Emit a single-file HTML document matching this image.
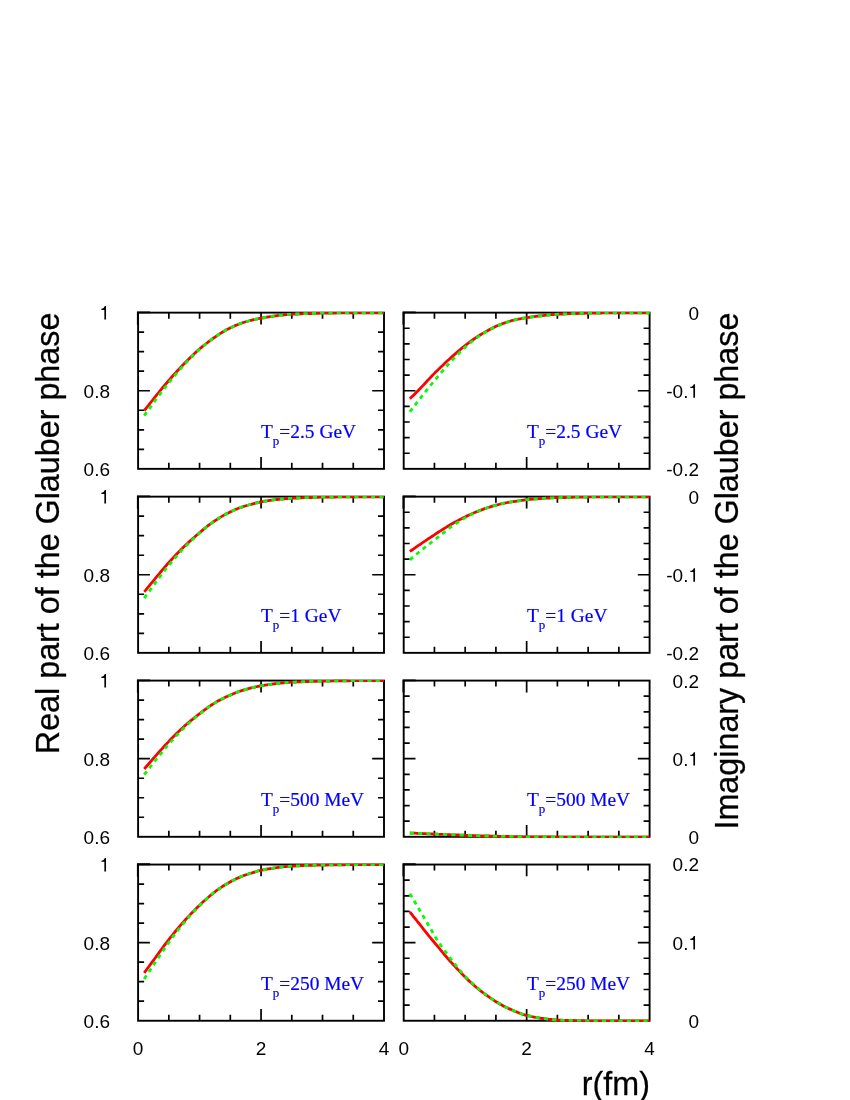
<!DOCTYPE html>
<html><head><meta charset="utf-8"><title>Glauber phase</title>
<style>
html,body{margin:0;padding:0;background:#fff;}
body{width:850px;height:1100px;overflow:hidden;}
svg{display:block;will-change:transform;}
text{font-family:"Liberation Sans",sans-serif;fill:#000;}
.tk{font-size:19px;}
.ttl{font-size:32.3px;stroke:#000;stroke-width:0.25px;}
.tp{font-family:"Liberation Serif",serif;font-size:19.4px;fill:#00f;stroke:#00f;stroke-width:0.2px;}
.sub{font-size:13px;}
</style></head><body>
<svg width="850" height="1100" viewBox="0 0 850 1100">
<rect width="850" height="1100" fill="#fff"/>
<path d="M168.84,468.85v-6.0M168.84,312.65v6.0M199.57,468.85v-6.0M199.57,312.65v6.0M230.31,468.85v-6.0M230.31,312.65v6.0M261.05,468.85v-11.8M261.05,312.65v11.8M291.79,468.85v-6.0M291.79,312.65v6.0M322.52,468.85v-6.0M322.52,312.65v6.0M353.26,468.85v-6.0M353.26,312.65v6.0M138.10,332.17h6.0M384.00,332.17h-6.0M138.10,351.70h6.0M384.00,351.70h-6.0M138.10,371.22h6.0M384.00,371.22h-6.0M138.10,390.75h11.8M384.00,390.75h-11.8M138.10,410.27h6.0M384.00,410.27h-6.0M138.10,429.80h6.0M384.00,429.80h-6.0M138.10,449.32h6.0M384.00,449.32h-6.0" stroke="#000" stroke-width="1.7" fill="none"/>
<rect x="138.10" y="312.65" width="245.90" height="156.20" fill="none" stroke="#000" stroke-width="1.9"/>
<path d="M137.85,324.65V312.40H150.10" fill="none" stroke="#000" stroke-width="1.9" stroke-linecap="butt" stroke-linejoin="miter"/>
<text class="tp" x="261" y="438.0">T<tspan class="sub" dy="6.8">p</tspan><tspan dy="-6.8">=2.5 GeV</tspan></text>
<path d="M145.4,411.6L147.1,409.3L148.8,407.1L150.5,404.9L152.2,402.8L154.0,400.6L155.7,398.5L157.4,396.3L159.1,394.2L160.9,392.1L162.6,390.0L164.3,387.9L166.0,385.9L167.7,383.9L169.5,381.9L171.2,379.9L172.9,377.9L174.6,375.9L176.3,374.0L178.0,372.2L179.8,370.3L181.5,368.5L183.2,366.7L184.9,364.9L186.6,363.2L188.4,361.5L190.1,359.7L191.8,358.0L193.5,356.4L195.2,354.7L196.9,353.2L198.6,351.6L200.4,350.1L202.1,348.7L203.8,347.3L205.5,345.9L207.2,344.6L208.9,343.2L210.6,341.9L212.4,340.6L214.1,339.4L215.8,338.2L217.5,337.0L219.2,335.8L220.9,334.8L222.6,333.7L224.3,332.7L226.0,331.7L227.7,330.8L229.4,329.9L231.1,329.0L232.8,328.2L234.5,327.4L236.2,326.7L237.9,326.0L239.6,325.3L241.3,324.7L243.0,324.1L244.7,323.6L246.4,323.1L248.1,322.6L249.8,322.1L251.5,321.7L253.2,321.2L255.0,320.8L256.7,320.5L258.4,320.1L260.1,319.8L261.8,319.5L263.5,319.2L265.2,318.9L266.9,318.6L268.7,318.3L270.4,318.1L272.1,317.8L273.8,317.5L275.5,317.3L277.2,317.1L279.0,316.8L280.7,316.6L282.4,316.4L284.1,316.3L285.8,316.1L287.5,315.9L289.2,315.8L290.9,315.7L292.7,315.6L294.4,315.5L296.1,315.4L297.8,315.4L299.5,315.3L301.3,315.2L303.0,315.1L304.7,315.1L306.4,315.0L308.2,315.0L309.9,314.9L311.6,314.9L313.3,314.8L315.0,314.8L316.8,314.7L318.5,314.7L320.2,314.6L321.9,314.5L323.6,314.5L325.4,314.5L327.1,314.5L328.8,314.4L330.5,314.4L332.3,314.4L334.0,314.4L335.7,314.4L337.4,314.3L339.2,314.3L340.9,314.3L342.6,314.3L344.3,314.3L346.1,314.2L347.8,314.2L349.5,314.2L351.2,314.2L353.0,314.2L354.7,314.2L356.4,314.2L358.1,314.2L359.9,314.2L361.6,314.2L363.3,314.2L365.0,314.2L366.8,314.2L368.5,314.2L370.2,314.2L371.9,314.2L373.7,314.2L375.4,314.2L377.1,314.2L378.8,314.2L380.6,314.2L382.3,314.2L384.0,314.2L384.0,311.9L382.3,311.9L380.6,311.9L378.8,311.9L377.1,311.9L375.4,311.9L373.7,311.9L371.9,311.9L370.2,311.9L368.5,311.9L366.8,311.9L365.0,311.9L363.3,311.9L361.6,311.9L359.9,311.9L358.1,311.9L356.4,311.9L354.7,311.9L353.0,311.9L351.2,311.9L349.5,311.9L347.8,311.9L346.0,311.9L344.3,311.9L342.6,311.9L340.9,311.9L339.1,311.9L337.4,311.9L335.7,311.9L334.0,311.9L332.2,311.9L330.5,311.9L328.8,311.9L327.1,311.9L325.3,312.0L323.6,312.0L321.9,312.0L320.2,312.0L318.4,311.9L316.7,311.9L315.0,312.0L313.2,312.0L311.5,312.1L309.8,312.1L308.1,312.2L306.3,312.2L304.6,312.3L302.9,312.3L301.2,312.4L299.4,312.5L297.7,312.6L296.0,312.6L294.2,312.7L292.5,312.8L290.8,312.9L289.0,313.0L287.3,313.1L285.6,313.3L283.8,313.5L282.1,313.7L280.3,313.9L278.6,314.1L276.9,314.3L275.1,314.5L273.4,314.8L271.7,315.0L269.9,315.3L268.2,315.6L266.5,315.8L264.8,316.1L263.0,316.4L261.3,316.7L259.6,317.0L257.8,317.4L256.1,317.7L254.3,318.1L252.6,318.5L250.8,319.0L249.1,319.4L247.4,319.9L245.6,320.4L243.9,320.9L242.1,321.5L240.4,322.1L238.6,322.7L236.9,323.4L235.1,324.1L233.4,324.9L231.6,325.7L229.9,326.5L228.1,327.4L226.4,328.3L224.6,329.3L222.9,330.3L221.1,331.3L219.4,332.4L217.7,333.5L215.9,334.7L214.2,335.9L212.4,337.1L210.7,338.4L208.9,339.7L207.2,341.0L205.5,342.4L203.7,343.7L202.0,345.1L200.3,346.5L198.5,348.0L196.8,349.5L195.0,351.1L193.3,352.7L191.6,354.4L189.8,356.0L188.1,357.8L186.4,359.5L184.6,361.2L182.9,363.0L181.2,364.8L179.5,366.6L177.7,368.4L176.0,370.3L174.3,372.2L172.5,374.1L170.8,376.0L169.1,378.0L167.3,380.0L165.6,382.1L163.9,384.1L162.1,386.1L160.4,388.2L158.7,390.3L157.0,392.4L155.2,394.6L153.5,396.7L151.8,398.9L150.1,401.0L148.3,403.2L146.6,405.4L144.9,407.6L143.1,409.8Z" fill="#f00"/>
<path d="M145.4,416.4L147.1,414.0L147.8,413.0L145.5,411.4L144.8,412.3L143.1,414.8ZM150.2,409.7L150.6,409.2L152.3,406.8L152.6,406.3L150.4,404.7L150.0,405.2L148.3,407.5L147.9,408.0ZM155.1,403.0L155.7,402.1L157.4,399.8L157.6,399.6L155.3,398.0L155.2,398.1L153.5,400.5L152.8,401.3ZM160.1,396.3L160.9,395.2L162.6,393.0L160.3,391.3L158.7,393.5L157.8,394.6ZM165.1,389.8L166.0,388.5L167.6,386.5L165.4,384.8L163.8,386.8L162.9,388.0ZM170.2,383.3L171.2,382.0L172.8,380.0L170.6,378.3L169.0,380.3L168.0,381.5ZM175.5,376.9L176.4,375.8L178.1,373.7L178.1,373.7L176.0,371.9L176.0,371.9L174.2,374.0L173.3,375.1ZM180.8,370.6L181.5,369.8L183.2,367.9L183.6,367.5L181.5,365.6L181.2,366.0L179.4,368.0L178.7,368.7ZM186.4,364.5L186.7,364.2L188.4,362.3L189.2,361.5L187.2,359.5L186.4,360.4L184.6,362.2L184.3,362.6ZM192.1,358.5L193.5,357.0L195.0,355.6L193.0,353.6L191.6,355.0L190.1,356.5ZM198.0,352.7L198.7,352.1L200.4,350.5L201.0,350.0L199.2,347.9L198.5,348.4L196.8,350.0L196.1,350.7ZM204.1,347.3L205.5,346.1L207.2,344.7L207.3,344.7L205.6,342.5L205.5,342.6L203.7,344.0L202.3,345.1ZM210.6,342.1L210.6,342.1L212.4,340.7L213.9,339.6L212.2,337.4L210.7,338.5L208.9,339.8L208.9,339.9ZM217.2,337.2L217.5,337.0L219.2,335.8L220.6,334.9L219.1,332.6L217.6,333.5L215.9,334.7L215.6,334.9ZM224.1,332.8L224.3,332.7L226.0,331.7L227.7,330.8L226.3,328.3L224.6,329.3L222.9,330.3L222.7,330.4ZM231.3,328.9L232.8,328.2L234.5,327.4L235.0,327.2L233.9,324.7L233.4,324.9L231.6,325.7L230.1,326.4ZM238.8,325.7L239.6,325.3L241.3,324.7L242.6,324.3L241.7,321.6L240.4,322.1L238.6,322.7L237.8,323.0ZM246.5,323.0L248.1,322.6L249.8,322.1L250.5,321.9L249.8,319.2L249.1,319.4L247.4,319.9L245.8,320.3ZM254.5,320.9L254.9,320.8L256.7,320.5L258.4,320.1L258.5,320.1L258.0,317.3L257.8,317.4L256.1,317.7L254.3,318.1L253.9,318.2ZM262.5,319.3L263.5,319.2L265.2,318.9L266.6,318.7L266.2,315.9L264.8,316.1L263.0,316.4L262.1,316.6ZM270.7,318.0L272.1,317.8L273.8,317.5L274.8,317.4L274.4,314.6L273.4,314.8L271.7,315.0L270.3,315.2ZM278.9,316.8L279.0,316.8L280.7,316.6L282.4,316.4L283.0,316.4L282.7,313.6L282.1,313.7L280.3,313.9L278.6,314.1L278.5,314.1ZM287.1,316.0L287.5,315.9L289.2,315.8L290.9,315.7L291.2,315.7L291.0,312.9L290.8,312.9L289.0,313.0L287.3,313.1L286.9,313.2ZM295.3,315.5L296.1,315.4L297.8,315.4L299.5,315.3L299.3,312.5L297.7,312.6L296.0,312.6L295.2,312.7ZM303.6,315.1L304.7,315.1L306.4,315.0L307.7,315.0L307.7,312.2L306.3,312.2L304.6,312.3L303.5,312.3ZM311.9,314.9L313.3,314.8L315.0,314.8L316.0,314.8L316.0,312.0L315.0,312.0L313.2,312.0L311.8,312.1ZM320.2,314.6L320.2,314.6L321.9,314.5L323.6,314.5L324.3,314.5L324.3,312.0L323.6,312.0L321.9,312.0L320.2,312.0L320.1,312.0ZM328.5,314.4L328.8,314.4L330.5,314.4L332.3,314.4L332.6,314.4L332.6,311.9L332.2,311.9L330.5,311.9L328.8,311.9L328.4,311.9ZM336.8,314.3L337.4,314.3L339.2,314.3L340.9,314.3L340.9,314.3L340.9,311.9L340.9,311.9L339.1,311.9L337.4,311.9L336.7,311.9ZM345.0,314.3L346.1,314.2L347.8,314.2L349.2,314.2L349.2,311.9L347.8,311.9L346.0,311.9L345.0,311.9ZM353.3,314.2L354.7,314.2L356.4,314.2L357.5,314.2L357.5,311.9L356.4,311.9L354.7,311.9L353.3,311.9ZM361.6,314.2L363.3,314.2L365.0,314.2L365.8,314.2L365.8,311.9L365.0,311.9L363.3,311.9L361.6,311.9ZM369.9,314.2L370.2,314.2L371.9,314.2L373.7,314.2L374.1,314.2L374.1,311.9L373.7,311.9L371.9,311.9L370.2,311.9L369.9,311.9ZM378.2,314.2L378.8,314.2L380.6,314.2L382.3,314.2L382.4,314.2L382.4,311.9L382.3,311.9L380.6,311.9L378.8,311.9L378.2,311.9Z" fill="#0f0"/>
<path d="M434.44,468.85v-6.0M434.44,312.65v6.0M465.18,468.85v-6.0M465.18,312.65v6.0M495.91,468.85v-6.0M495.91,312.65v6.0M526.65,468.85v-11.8M526.65,312.65v11.8M557.39,468.85v-6.0M557.39,312.65v6.0M588.12,468.85v-6.0M588.12,312.65v6.0M618.86,468.85v-6.0M618.86,312.65v6.0M403.70,328.27h6.0M649.60,328.27h-6.0M403.70,343.89h6.0M649.60,343.89h-6.0M403.70,359.51h6.0M649.60,359.51h-6.0M403.70,375.13h6.0M649.60,375.13h-6.0M403.70,390.75h11.8M649.60,390.75h-11.8M403.70,406.37h6.0M649.60,406.37h-6.0M403.70,421.99h6.0M649.60,421.99h-6.0M403.70,437.61h6.0M649.60,437.61h-6.0M403.70,453.23h6.0M649.60,453.23h-6.0" stroke="#000" stroke-width="1.7" fill="none"/>
<rect x="403.70" y="312.65" width="245.90" height="156.20" fill="none" stroke="#000" stroke-width="1.9"/>
<path d="M403.45,324.65V312.40H415.70" fill="none" stroke="#000" stroke-width="1.9" stroke-linecap="butt" stroke-linejoin="miter"/>
<text class="tp" x="527" y="438.0">T<tspan class="sub" dy="6.8">p</tspan><tspan dy="-6.8">=2.5 GeV</tspan></text>
<path d="M410.8,399.8L412.5,398.1L414.3,396.4L416.0,394.7L417.7,393.0L419.5,391.2L421.2,389.5L422.9,387.6L424.7,385.8L426.4,383.9L428.1,382.0L429.8,380.2L431.6,378.4L433.3,376.6L435.0,374.8L436.7,373.1L438.4,371.4L440.1,369.7L441.9,368.0L443.6,366.4L445.3,364.8L447.0,363.1L448.7,361.5L450.5,360.0L452.2,358.4L453.9,356.9L455.6,355.4L457.3,353.9L459.1,352.4L460.8,350.9L462.5,349.5L464.2,348.1L465.9,346.8L467.6,345.4L469.3,344.1L471.0,342.8L472.8,341.6L474.5,340.4L476.2,339.2L477.9,338.1L479.6,337.0L481.3,335.9L483.0,334.8L484.7,333.8L486.4,332.8L488.1,331.9L489.9,330.9L491.6,330.0L493.3,329.2L495.0,328.4L496.7,327.6L498.4,326.8L500.1,326.1L501.8,325.4L503.5,324.8L505.2,324.2L506.9,323.6L508.6,323.1L510.3,322.5L512.0,322.0L513.7,321.6L515.4,321.2L517.1,320.8L518.8,320.4L520.5,320.1L522.2,319.8L523.9,319.6L525.6,319.3L527.3,319.1L529.1,318.8L530.8,318.6L532.5,318.3L534.2,318.1L535.9,317.8L537.7,317.6L539.4,317.4L541.1,317.2L542.8,317.0L544.5,316.8L546.3,316.6L548.0,316.4L549.7,316.2L551.4,316.1L553.1,315.9L554.8,315.8L556.5,315.7L558.3,315.6L560.0,315.5L561.7,315.4L563.4,315.4L565.1,315.3L566.9,315.2L568.6,315.1L570.3,315.1L572.0,315.0L573.8,315.0L575.5,314.9L577.2,314.9L578.9,314.8L580.6,314.8L582.4,314.7L584.1,314.7L585.8,314.6L587.5,314.5L589.2,314.5L591.0,314.5L592.7,314.5L594.4,314.4L596.1,314.4L597.9,314.4L599.6,314.4L601.3,314.4L603.0,314.3L604.8,314.3L606.5,314.3L608.2,314.3L609.9,314.3L611.7,314.2L613.4,314.2L615.1,314.2L616.8,314.2L618.6,314.2L620.3,314.2L622.0,314.2L623.7,314.2L625.5,314.2L627.2,314.2L628.9,314.2L630.6,314.2L632.4,314.2L634.1,314.2L635.8,314.2L637.5,314.2L639.3,314.2L641.0,314.2L642.7,314.2L644.4,314.2L646.2,314.2L647.9,314.2L649.6,314.2L649.6,311.9L647.9,311.9L646.2,311.9L644.4,311.9L642.7,311.9L641.0,311.9L639.3,311.9L637.5,311.9L635.8,311.9L634.1,311.9L632.4,311.9L630.6,311.9L628.9,311.9L627.2,311.9L625.5,311.9L623.7,311.9L622.0,311.9L620.3,311.9L618.6,311.9L616.8,311.9L615.1,311.9L613.4,311.9L611.6,311.9L609.9,311.9L608.2,311.9L606.5,311.9L604.7,311.9L603.0,311.9L601.3,311.9L599.6,311.9L597.8,311.9L596.1,311.9L594.4,311.9L592.7,311.9L590.9,312.0L589.2,312.0L587.5,312.0L585.8,312.0L584.0,311.9L582.3,311.9L580.6,312.0L578.8,312.0L577.1,312.1L575.4,312.1L573.7,312.2L571.9,312.2L570.2,312.3L568.5,312.4L566.8,312.4L565.0,312.5L563.3,312.6L561.6,312.6L559.8,312.7L558.1,312.8L556.4,312.9L554.6,313.0L552.9,313.1L551.2,313.3L549.4,313.4L547.7,313.6L546.0,313.8L544.2,314.0L542.5,314.2L540.8,314.4L539.0,314.6L537.3,314.8L535.6,315.1L533.8,315.3L532.1,315.6L530.4,315.8L528.7,316.0L526.9,316.3L525.2,316.5L523.5,316.8L521.7,317.1L520.0,317.4L518.2,317.7L516.5,318.0L514.7,318.4L513.0,318.9L511.2,319.3L509.5,319.9L507.7,320.4L506.0,321.0L504.3,321.5L502.5,322.2L500.8,322.8L499.0,323.5L497.3,324.3L495.5,325.0L493.8,325.8L492.0,326.7L490.3,327.5L488.5,328.5L486.8,329.4L485.0,330.4L483.3,331.4L481.6,332.4L479.8,333.5L478.1,334.6L476.3,335.7L474.6,336.9L472.9,338.1L471.1,339.3L469.4,340.6L467.6,341.9L465.9,343.2L464.2,344.6L462.4,345.9L460.7,347.3L459.0,348.8L457.2,350.3L455.5,351.8L453.8,353.3L452.0,354.8L450.3,356.3L448.6,357.9L446.8,359.5L445.1,361.1L443.4,362.7L441.7,364.4L439.9,366.0L438.2,367.7L436.5,369.4L434.7,371.1L433.0,372.9L431.3,374.6L429.5,376.4L427.8,378.3L426.1,380.1L424.3,382.0L422.6,383.9L420.9,385.7L419.2,387.5L417.5,389.3L415.8,391.0L414.0,392.7L412.3,394.4L410.6,396.1L408.9,397.8Z" fill="#f00"/>
<path d="M411.0,412.6L412.7,410.4L413.5,409.3L411.3,407.6L410.5,408.7L408.7,410.9ZM416.0,406.0L416.1,405.9L417.9,403.6L418.5,402.8L416.3,401.0L415.6,401.9L413.9,404.2L413.8,404.3ZM421.1,399.5L421.3,399.2L423.0,397.0L423.7,396.2L421.5,394.5L420.8,395.3L419.1,397.5L418.9,397.8ZM426.2,393.0L426.5,392.7L428.2,390.5L428.8,389.7L426.6,388.0L426.0,388.8L424.3,390.9L424.0,391.2ZM431.4,386.5L431.6,386.2L433.4,384.1L434.0,383.3L431.9,381.5L431.2,382.4L429.5,384.5L429.2,384.7ZM436.7,380.1L436.8,380.0L438.5,377.9L439.3,376.9L437.2,375.1L436.4,376.1L434.6,378.2L434.5,378.3ZM442.0,373.8L443.7,371.8L444.7,370.6L442.6,368.8L441.6,370.0L439.9,372.0ZM447.4,367.5L448.8,365.8L450.1,364.4L448.0,362.5L446.7,364.0L445.3,365.6ZM452.9,361.3L454.0,360.2L455.7,358.4L455.7,358.3L453.7,356.4L453.7,356.4L452.0,358.2L450.8,359.4ZM458.6,355.4L459.1,354.9L460.8,353.2L461.6,352.5L459.6,350.5L458.9,351.2L457.2,352.9L456.6,353.4ZM464.6,349.7L466.0,348.4L467.6,346.9L465.8,344.8L464.1,346.3L462.7,347.6ZM470.8,344.3L471.1,344.0L472.8,342.6L474.0,341.7L472.2,339.5L471.1,340.4L469.3,341.8L469.0,342.1ZM477.2,339.2L477.9,338.8L479.6,337.6L480.6,336.9L479.0,334.6L478.0,335.3L476.3,336.5L475.6,337.0ZM484.1,334.7L484.7,334.3L486.5,333.2L487.6,332.6L486.2,330.2L485.0,330.8L483.3,331.9L482.6,332.3ZM491.2,330.6L491.6,330.4L493.3,329.5L494.8,328.7L493.6,326.2L492.0,327.0L490.3,327.9L489.8,328.1ZM498.5,327.0L500.1,326.4L501.8,325.7L502.3,325.4L501.3,322.8L500.7,323.1L499.0,323.8L497.4,324.5ZM506.2,324.0L506.9,323.8L508.6,323.2L510.1,322.7L509.2,320.0L507.7,320.5L506.0,321.1L505.2,321.4ZM514.0,321.5L515.4,321.2L517.1,320.8L517.9,320.6L517.4,317.9L516.5,318.0L514.7,318.4L513.3,318.8ZM522.0,319.9L522.2,319.8L523.9,319.6L525.6,319.3L526.0,319.2L525.6,316.5L525.2,316.5L523.5,316.8L521.7,317.1L521.5,317.1ZM530.1,318.7L530.8,318.6L532.5,318.3L534.2,318.1L534.2,318.1L533.9,315.3L533.8,315.3L532.1,315.6L530.4,315.8L529.7,315.9ZM538.3,317.5L539.4,317.4L541.1,317.2L542.5,317.0L542.1,314.2L540.8,314.4L539.0,314.6L538.0,314.8ZM546.5,316.5L548.0,316.4L549.7,316.2L550.7,316.1L550.4,313.3L549.4,313.4L547.7,313.6L546.3,313.8ZM554.8,315.8L554.8,315.8L556.5,315.7L558.3,315.6L558.9,315.6L558.7,312.8L558.1,312.8L556.4,312.9L554.6,313.0L554.6,313.0ZM563.0,315.4L563.4,315.4L565.1,315.3L566.9,315.2L567.2,315.2L567.0,312.4L566.7,312.4L565.0,312.5L563.3,312.6L562.9,312.6ZM571.3,315.0L572.0,315.0L573.8,315.0L575.4,314.9L575.4,312.1L573.7,312.2L571.9,312.2L571.2,312.3ZM579.6,314.8L580.6,314.8L582.4,314.7L583.7,314.7L583.7,311.9L582.3,311.9L580.6,312.0L579.5,312.0ZM587.9,314.5L589.2,314.5L591.0,314.5L592.0,314.5L592.0,311.9L590.9,312.0L589.2,312.0L587.8,312.0ZM596.2,314.4L597.9,314.4L599.6,314.4L600.3,314.4L600.3,311.9L599.6,311.9L597.8,311.9L596.1,311.9ZM604.5,314.3L604.8,314.3L606.5,314.3L608.2,314.3L608.6,314.3L608.6,311.9L608.2,311.9L606.5,311.9L604.7,311.9L604.4,311.9ZM612.7,314.2L613.4,314.2L615.1,314.2L616.8,314.2L616.9,314.2L616.9,311.9L616.8,311.9L615.1,311.9L613.4,311.9L612.7,311.9ZM621.0,314.2L622.0,314.2L623.7,314.2L625.2,314.2L625.2,311.9L623.7,311.9L622.0,311.9L621.0,311.9ZM629.3,314.2L630.6,314.2L632.4,314.2L633.5,314.2L633.5,311.9L632.4,311.9L630.6,311.9L629.3,311.9ZM637.6,314.2L639.3,314.2L641.0,314.2L641.8,314.2L641.8,311.9L641.0,311.9L639.3,311.9L637.6,311.9ZM645.9,314.2L646.2,314.2L647.9,314.2L649.6,314.2L649.6,311.9L647.9,311.9L646.2,311.9L645.9,311.9Z" fill="#0f0"/>
<path transform="translate(99.44,319.55) scale(0.019,-0.019)" d="M259,0L259,505L102,505L102,568C190,580 250,620 285,709L347,709L347,0Z" fill="#000"/>
<text class="tk" text-anchor="end" x="110" y="397.6">0.8</text>
<text class="tk" text-anchor="end" x="110" y="475.7">0.6</text>
<text class="tk" text-anchor="end" x="699" y="319.5">0</text>
<text class="tk" text-anchor="end" x="688.44" y="397.6">-0.</text>
<path transform="translate(688.44,397.65) scale(0.019,-0.019)" d="M259,0L259,505L102,505L102,568C190,580 250,620 285,709L347,709L347,0Z" fill="#000"/>
<text class="tk" text-anchor="end" x="699" y="475.7">-0.2</text>
<path d="M168.84,652.85v-6.0M168.84,496.65v6.0M199.57,652.85v-6.0M199.57,496.65v6.0M230.31,652.85v-6.0M230.31,496.65v6.0M261.05,652.85v-11.8M261.05,496.65v11.8M291.79,652.85v-6.0M291.79,496.65v6.0M322.52,652.85v-6.0M322.52,496.65v6.0M353.26,652.85v-6.0M353.26,496.65v6.0M138.10,516.17h6.0M384.00,516.17h-6.0M138.10,535.70h6.0M384.00,535.70h-6.0M138.10,555.23h6.0M384.00,555.23h-6.0M138.10,574.75h11.8M384.00,574.75h-11.8M138.10,594.27h6.0M384.00,594.27h-6.0M138.10,613.80h6.0M384.00,613.80h-6.0M138.10,633.32h6.0M384.00,633.32h-6.0" stroke="#000" stroke-width="1.7" fill="none"/>
<rect x="138.10" y="496.65" width="245.90" height="156.20" fill="none" stroke="#000" stroke-width="1.9"/>
<path d="M137.85,508.65V496.40H150.10" fill="none" stroke="#000" stroke-width="1.9" stroke-linecap="butt" stroke-linejoin="miter"/>
<text class="tp" x="261" y="622.0">T<tspan class="sub" dy="6.8">p</tspan><tspan dy="-6.8">=1 GeV</tspan></text>
<path d="M145.3,592.8L147.1,590.7L148.8,588.6L150.5,586.5L152.2,584.3L154.0,582.3L155.7,580.2L157.4,578.1L159.1,576.0L160.8,574.0L162.6,571.9L164.3,569.9L166.0,567.9L167.7,565.9L169.4,564.0L171.2,562.1L172.9,560.2L174.6,558.3L176.3,556.5L178.0,554.7L179.7,552.9L181.5,551.1L183.2,549.4L184.9,547.7L186.6,546.1L188.3,544.4L190.0,542.9L191.8,541.3L193.5,539.8L195.2,538.3L196.9,536.8L198.6,535.3L200.4,533.9L202.1,532.4L203.8,530.9L205.5,529.5L207.2,528.1L208.9,526.8L210.6,525.5L212.3,524.3L214.0,523.1L215.7,521.9L217.5,520.8L219.2,519.7L220.9,518.6L222.6,517.6L224.3,516.6L226.0,515.7L227.7,514.7L229.4,513.9L231.1,513.0L232.8,512.2L234.5,511.5L236.2,510.7L237.9,510.0L239.6,509.3L241.3,508.7L243.0,508.2L244.7,507.6L246.4,507.1L248.1,506.6L249.8,506.1L251.6,505.7L253.3,505.2L255.0,504.7L256.7,504.3L258.4,503.9L260.1,503.5L261.8,503.1L263.5,502.9L265.2,502.6L266.9,502.3L268.6,502.1L270.4,501.8L272.1,501.6L273.8,501.3L275.5,501.1L277.2,500.9L278.9,500.7L280.7,500.5L282.4,500.4L284.1,500.2L285.8,500.1L287.5,499.9L289.2,499.8L290.9,499.7L292.7,499.6L294.4,499.5L296.1,499.4L297.8,499.4L299.5,499.3L301.3,499.2L303.0,499.1L304.7,499.1L306.4,499.0L308.2,499.0L309.9,498.9L311.6,498.9L313.3,498.8L315.0,498.8L316.8,498.7L318.5,498.7L320.2,498.6L321.9,498.5L323.6,498.5L325.4,498.5L327.1,498.5L328.8,498.4L330.5,498.4L332.3,498.4L334.0,498.4L335.7,498.4L337.4,498.3L339.2,498.3L340.9,498.3L342.6,498.3L344.3,498.3L346.1,498.2L347.8,498.2L349.5,498.2L351.2,498.2L353.0,498.2L354.7,498.2L356.4,498.2L358.1,498.2L359.9,498.2L361.6,498.2L363.3,498.2L365.0,498.2L366.8,498.2L368.5,498.2L370.2,498.2L371.9,498.2L373.7,498.2L375.4,498.2L377.1,498.2L378.8,498.2L380.6,498.2L382.3,498.2L384.0,498.2L384.0,495.9L382.3,495.9L380.6,495.9L378.8,495.9L377.1,495.9L375.4,495.9L373.7,495.9L371.9,495.9L370.2,495.9L368.5,495.9L366.8,495.9L365.0,495.9L363.3,495.9L361.6,495.9L359.9,495.9L358.1,495.9L356.4,495.9L354.7,495.9L353.0,495.9L351.2,495.9L349.5,495.9L347.8,495.9L346.0,495.9L344.3,495.9L342.6,495.9L340.9,495.9L339.1,495.9L337.4,495.9L335.7,495.9L334.0,495.9L332.2,495.9L330.5,495.9L328.8,495.9L327.1,495.9L325.3,496.0L323.6,496.0L321.9,496.0L320.2,496.0L318.4,495.9L316.7,495.9L315.0,496.0L313.2,496.0L311.5,496.1L309.8,496.1L308.1,496.2L306.3,496.2L304.6,496.3L302.9,496.3L301.2,496.4L299.4,496.5L297.7,496.6L296.0,496.6L294.2,496.7L292.5,496.8L290.8,496.9L289.0,497.0L287.3,497.1L285.6,497.3L283.8,497.4L282.1,497.6L280.4,497.7L278.6,497.9L276.9,498.1L275.2,498.3L273.4,498.6L271.7,498.8L270.0,499.0L268.2,499.3L266.5,499.6L264.8,499.8L263.0,500.1L261.3,500.4L259.5,500.7L257.8,501.1L256.0,501.6L254.3,502.0L252.5,502.5L250.8,503.0L249.1,503.4L247.4,503.9L245.6,504.4L243.9,504.9L242.1,505.5L240.4,506.1L238.6,506.7L236.9,507.4L235.1,508.1L233.4,508.9L231.6,509.7L229.9,510.5L228.1,511.4L226.4,512.3L224.6,513.2L222.9,514.2L221.2,515.2L219.4,516.2L217.7,517.3L215.9,518.4L214.2,519.6L212.4,520.8L210.7,522.0L209.0,523.3L207.2,524.6L205.5,525.9L203.7,527.3L202.0,528.8L200.3,530.2L198.5,531.7L196.8,533.2L195.1,534.7L193.4,536.2L191.6,537.7L189.9,539.2L188.1,540.8L186.4,542.4L184.7,544.0L182.9,545.7L181.2,547.4L179.5,549.2L177.7,550.9L176.0,552.7L174.3,554.6L172.5,556.4L170.8,558.3L169.1,560.2L167.3,562.1L165.6,564.1L163.9,566.1L162.2,568.1L160.4,570.1L158.7,572.2L157.0,574.2L155.2,576.3L153.5,578.4L151.8,580.5L150.1,582.6L148.3,584.7L146.6,586.8L144.9,588.9L143.2,591.1Z" fill="#f00"/>
<path d="M145.4,598.9L147.1,596.5L147.8,595.5L145.5,593.9L144.8,594.8L143.1,597.2ZM150.2,592.2L150.6,591.7L152.3,589.4L152.7,588.8L150.4,587.2L150.0,587.7L148.3,590.1L148.0,590.5ZM155.2,585.5L155.7,584.7L157.4,582.4L157.6,582.2L155.4,580.5L155.2,580.8L153.5,583.1L152.9,583.8ZM160.1,578.9L160.9,577.8L162.6,575.6L162.6,575.6L160.4,573.8L160.4,573.9L158.7,576.2L157.9,577.2ZM165.2,572.3L166.0,571.1L167.7,569.0L165.5,567.3L163.8,569.4L163.0,570.6ZM170.3,565.8L171.2,564.7L172.9,562.6L172.9,562.6L170.8,560.8L170.8,560.8L169.0,562.9L168.1,564.0ZM175.6,559.4L176.4,558.5L178.1,556.5L178.3,556.3L176.2,554.5L176.0,554.7L174.2,556.7L173.4,557.6ZM181.0,553.2L181.5,552.7L183.2,550.8L183.8,550.2L181.8,548.3L181.2,548.9L179.4,550.8L178.9,551.4ZM186.6,547.2L188.4,545.4L189.6,544.3L187.6,542.3L186.4,543.5L184.6,545.2ZM192.5,541.4L193.5,540.5L195.2,538.9L195.5,538.6L193.7,536.5L193.3,536.8L191.6,538.4L190.6,539.4ZM198.6,535.8L198.7,535.8L200.4,534.2L201.7,533.0L199.8,531.0L198.5,532.1L196.8,533.7L196.7,533.7ZM204.8,530.3L205.5,529.7L207.2,528.3L207.9,527.7L206.2,525.5L205.5,526.1L203.7,527.6L203.0,528.2ZM211.2,525.2L212.3,524.4L214.1,523.1L214.5,522.8L212.9,520.5L212.4,520.8L210.7,522.1L209.5,523.0ZM217.9,520.5L219.2,519.7L220.9,518.6L221.4,518.3L220.0,515.9L219.4,516.2L217.7,517.3L216.4,518.1ZM224.9,516.2L226.0,515.7L227.7,514.7L228.5,514.3L227.3,511.8L226.4,512.3L224.6,513.2L223.6,513.8ZM232.2,512.5L232.8,512.2L234.5,511.5L236.0,510.8L234.9,508.2L233.4,508.9L231.6,509.7L231.0,510.0ZM239.7,509.3L241.3,508.7L243.0,508.1L243.6,508.0L242.8,505.3L242.1,505.5L240.4,506.1L238.8,506.7ZM247.5,506.8L248.1,506.6L249.8,506.1L251.5,505.7L250.8,503.0L249.1,503.4L247.4,503.9L246.8,504.1ZM255.5,504.6L256.7,504.3L258.4,503.9L259.5,503.6L258.9,500.9L257.8,501.1L256.0,501.6L254.8,501.9ZM263.5,502.9L265.2,502.6L266.9,502.3L267.6,502.2L267.2,499.5L266.5,499.6L264.8,499.8L263.1,500.1ZM271.7,501.6L272.1,501.6L273.8,501.3L275.5,501.1L275.8,501.1L275.4,498.3L275.2,498.3L273.4,498.6L271.7,498.8L271.3,498.9ZM279.9,500.6L280.7,500.5L282.4,500.4L284.0,500.2L283.7,497.4L282.1,497.6L280.4,497.7L279.6,497.8ZM288.1,499.9L289.2,499.8L290.9,499.7L292.2,499.6L292.1,496.8L290.8,496.9L289.0,497.0L287.9,497.1ZM296.3,499.4L297.8,499.4L299.5,499.3L300.5,499.2L300.4,496.5L299.4,496.5L297.7,496.6L296.2,496.6ZM304.6,499.1L304.7,499.1L306.4,499.0L308.2,499.0L308.8,498.9L308.7,496.1L308.1,496.2L306.3,496.2L304.6,496.3L304.5,496.3ZM312.9,498.8L313.3,498.8L315.0,498.8L316.8,498.7L317.0,498.7L317.0,495.9L316.7,495.9L315.0,496.0L313.2,496.0L312.8,496.0ZM321.2,498.6L321.9,498.5L323.6,498.5L325.3,498.5L325.3,496.0L323.6,496.0L321.9,496.0L321.1,496.0ZM329.5,498.4L330.5,498.4L332.3,498.4L333.6,498.4L333.6,495.9L332.2,495.9L330.5,495.9L329.4,495.9ZM337.8,498.3L339.2,498.3L340.9,498.3L341.9,498.3L341.9,495.9L340.9,495.9L339.1,495.9L337.8,495.9ZM346.1,498.2L347.8,498.2L349.5,498.2L350.2,498.2L350.2,495.9L349.5,495.9L347.8,495.9L346.1,495.9ZM354.4,498.2L354.7,498.2L356.4,498.2L358.1,498.2L358.5,498.2L358.5,495.9L358.1,495.9L356.4,495.9L354.7,495.9L354.4,495.9ZM362.7,498.2L363.3,498.2L365.0,498.2L366.8,498.2L366.8,498.2L366.8,495.9L366.8,495.9L365.0,495.9L363.3,495.9L362.7,495.9ZM371.0,498.2L371.9,498.2L373.7,498.2L375.1,498.2L375.1,495.9L373.7,495.9L371.9,495.9L371.0,495.9ZM379.3,498.2L380.6,498.2L382.3,498.2L383.4,498.2L383.4,495.9L382.3,495.9L380.6,495.9L379.3,495.9Z" fill="#0f0"/>
<path d="M434.44,652.85v-6.0M434.44,496.65v6.0M465.18,652.85v-6.0M465.18,496.65v6.0M495.91,652.85v-6.0M495.91,496.65v6.0M526.65,652.85v-11.8M526.65,496.65v11.8M557.39,652.85v-6.0M557.39,496.65v6.0M588.12,652.85v-6.0M588.12,496.65v6.0M618.86,652.85v-6.0M618.86,496.65v6.0M403.70,512.27h6.0M649.60,512.27h-6.0M403.70,527.89h6.0M649.60,527.89h-6.0M403.70,543.51h6.0M649.60,543.51h-6.0M403.70,559.13h6.0M649.60,559.13h-6.0M403.70,574.75h11.8M649.60,574.75h-11.8M403.70,590.37h6.0M649.60,590.37h-6.0M403.70,605.99h6.0M649.60,605.99h-6.0M403.70,621.61h6.0M649.60,621.61h-6.0M403.70,637.23h6.0M649.60,637.23h-6.0" stroke="#000" stroke-width="1.7" fill="none"/>
<rect x="403.70" y="496.65" width="245.90" height="156.20" fill="none" stroke="#000" stroke-width="1.9"/>
<path d="M403.45,508.65V496.40H415.70" fill="none" stroke="#000" stroke-width="1.9" stroke-linecap="butt" stroke-linejoin="miter"/>
<text class="tp" x="527" y="622.0">T<tspan class="sub" dy="6.8">p</tspan><tspan dy="-6.8">=1 GeV</tspan></text>
<path d="M410.6,552.6L412.4,551.4L414.1,550.2L415.8,549.0L417.5,547.8L419.3,546.6L421.0,545.5L422.7,544.3L424.4,543.1L426.2,542.0L427.9,540.8L429.6,539.7L431.3,538.5L433.0,537.4L434.8,536.2L436.5,535.1L438.2,533.9L439.9,532.8L441.6,531.7L443.4,530.7L445.1,529.6L446.8,528.6L448.5,527.5L450.2,526.5L451.9,525.5L453.7,524.5L455.4,523.6L457.1,522.6L458.8,521.7L460.5,520.8L462.2,519.9L463.9,519.0L465.6,518.2L467.4,517.4L469.1,516.6L470.8,515.8L472.5,515.1L474.2,514.3L475.9,513.6L477.7,512.9L479.4,512.2L481.1,511.5L482.8,510.9L484.5,510.2L486.2,509.7L487.9,509.1L489.6,508.5L491.3,508.0L493.0,507.5L494.7,507.0L496.5,506.5L498.2,506.1L499.9,505.6L501.6,505.2L503.3,504.8L505.0,504.5L506.7,504.1L508.4,503.8L510.1,503.6L511.8,503.3L513.5,503.0L515.3,502.8L517.0,502.5L518.7,502.3L520.5,502.0L522.2,501.7L523.9,501.5L525.6,501.3L527.3,501.1L529.0,500.9L530.7,500.8L532.4,500.6L534.2,500.4L535.9,500.3L537.6,500.2L539.3,500.0L541.0,499.9L542.8,499.8L544.5,499.7L546.2,499.5L547.9,499.4L549.6,499.4L551.3,499.3L553.1,499.2L554.8,499.1L556.5,499.1L558.2,499.0L559.9,499.0L561.7,498.9L563.4,498.9L565.1,498.9L566.8,498.8L568.6,498.8L570.3,498.7L572.0,498.7L573.7,498.6L575.5,498.6L577.2,498.6L578.9,498.5L580.6,498.5L582.3,498.5L584.1,498.4L585.8,498.4L587.5,498.4L589.2,498.3L591.0,498.3L592.7,498.3L594.4,498.3L596.1,498.3L597.9,498.3L599.6,498.3L601.3,498.3L603.0,498.3L604.8,498.2L606.5,498.2L608.2,498.2L609.9,498.2L611.7,498.2L613.4,498.2L615.1,498.2L616.8,498.2L618.6,498.2L620.3,498.2L622.0,498.2L623.7,498.2L625.5,498.2L627.2,498.2L628.9,498.2L630.6,498.2L632.4,498.2L634.1,498.2L635.8,498.2L637.5,498.2L639.3,498.2L641.0,498.2L642.7,498.2L644.4,498.2L646.2,498.2L647.9,498.2L649.6,498.2L649.6,495.9L647.9,495.9L646.2,495.9L644.4,495.9L642.7,495.9L641.0,495.9L639.3,495.9L637.5,495.9L635.8,495.9L634.1,495.9L632.4,495.9L630.6,495.9L628.9,495.9L627.2,495.9L625.5,495.9L623.7,495.9L622.0,495.9L620.3,495.9L618.6,495.9L616.8,495.9L615.1,495.9L613.4,495.9L611.7,495.9L609.9,495.9L608.2,495.9L606.5,495.9L604.8,495.9L603.0,495.9L601.3,495.9L599.6,495.9L597.8,495.9L596.1,495.9L594.4,495.9L592.7,495.9L590.9,495.9L589.2,495.9L587.5,495.9L585.8,495.9L584.0,495.9L582.3,495.9L580.6,495.9L578.9,495.9L577.1,495.9L575.4,496.0L573.7,496.0L572.0,496.0L570.2,496.0L568.5,496.0L566.8,496.0L565.1,496.1L563.3,496.1L561.6,496.1L559.9,496.2L558.1,496.2L556.4,496.3L554.7,496.3L553.0,496.4L551.2,496.5L549.5,496.6L547.8,496.7L546.0,496.8L544.3,496.9L542.6,497.0L540.8,497.1L539.1,497.2L537.4,497.4L535.6,497.5L533.9,497.7L532.2,497.8L530.5,498.0L528.7,498.1L527.0,498.3L525.2,498.5L523.5,498.7L521.8,499.0L520.0,499.2L518.3,499.5L516.6,499.8L514.9,500.0L513.1,500.3L511.4,500.5L509.7,500.8L507.9,501.1L506.2,501.4L504.4,501.7L502.7,502.1L500.9,502.5L499.2,502.9L497.5,503.4L495.7,503.8L494.0,504.3L492.2,504.8L490.5,505.3L488.8,505.9L487.0,506.4L485.3,507.0L483.5,507.6L481.8,508.2L480.1,508.9L478.3,509.6L476.6,510.3L474.8,511.0L473.1,511.8L471.4,512.5L469.7,513.3L467.9,514.1L466.2,514.8L464.4,515.7L462.7,516.5L461.0,517.4L459.2,518.3L457.5,519.2L455.7,520.2L454.0,521.1L452.3,522.1L450.5,523.1L448.8,524.1L447.1,525.1L445.3,526.2L443.6,527.2L441.9,528.3L440.1,529.4L438.4,530.5L436.7,531.6L434.9,532.7L433.2,533.9L431.5,535.1L429.8,536.2L428.0,537.3L426.3,538.5L424.6,539.7L422.9,540.8L421.1,542.0L419.4,543.2L417.7,544.3L416.0,545.5L414.2,546.7L412.5,547.9L410.8,549.1L409.1,550.3Z" fill="#f00"/>
<path d="M410.8,560.9L412.5,559.4L413.9,558.2L412.1,556.1L410.7,557.3L408.9,558.8ZM417.1,555.5L417.6,555.1L419.4,553.6L420.3,552.9L418.5,550.7L417.6,551.5L415.9,552.9L415.3,553.4ZM423.5,550.3L424.5,549.5L426.2,548.2L426.7,547.8L425.0,545.6L424.5,546.0L422.8,547.3L421.8,548.1ZM430.0,545.2L431.4,544.1L433.1,542.8L433.3,542.7L431.6,540.4L431.4,540.6L429.7,541.9L428.3,543.0ZM436.6,540.1L436.6,540.1L438.3,538.7L439.8,537.5L438.1,535.3L436.6,536.5L434.9,537.9L434.8,537.9ZM443.1,535.0L443.5,534.6L445.2,533.2L446.3,532.3L444.6,530.2L443.5,531.1L441.7,532.4L441.3,532.8ZM449.5,529.8L450.4,529.1L452.1,527.8L452.8,527.3L451.2,525.0L450.4,525.6L448.7,526.9L447.8,527.6ZM456.2,525.0L457.2,524.4L458.9,523.3L459.7,522.8L458.2,520.4L457.4,520.9L455.7,522.0L454.7,522.7ZM463.2,520.6L464.0,520.1L465.7,519.1L466.8,518.6L465.4,516.1L464.3,516.7L462.6,517.7L461.8,518.2ZM470.4,516.6L470.9,516.3L472.6,515.4L474.0,514.7L472.8,512.2L471.3,512.9L469.6,513.8L469.0,514.1ZM477.7,513.0L479.4,512.3L481.1,511.6L481.5,511.4L480.5,508.8L480.0,509.0L478.3,509.7L476.6,510.5ZM485.3,509.9L486.2,509.6L487.9,509.1L489.2,508.6L488.4,506.0L487.0,506.4L485.3,507.0L484.4,507.3ZM493.1,507.4L494.7,507.0L496.5,506.5L497.1,506.3L496.4,503.6L495.7,503.8L494.0,504.3L492.4,504.8ZM501.1,505.3L501.6,505.2L503.3,504.8L505.0,504.5L505.1,504.4L504.6,501.7L504.4,501.7L502.7,502.1L500.9,502.5L500.5,502.6ZM509.1,503.7L510.1,503.6L511.8,503.3L513.2,503.1L512.8,500.3L511.4,500.5L509.7,500.8L508.7,501.0ZM517.3,502.5L518.7,502.3L520.5,502.0L521.4,501.8L521.0,499.1L520.0,499.2L518.3,499.5L516.9,499.7ZM525.5,501.3L525.6,501.3L527.3,501.1L529.0,500.9L529.6,500.9L529.3,498.1L528.7,498.1L527.0,498.3L525.3,498.5L525.2,498.5ZM533.7,500.5L534.2,500.4L535.9,500.3L537.6,500.2L537.8,500.1L537.6,497.3L537.4,497.4L535.6,497.5L533.9,497.7L533.5,497.7ZM542.0,499.8L542.8,499.8L544.5,499.7L546.1,499.6L545.9,496.8L544.3,496.9L542.6,497.0L541.8,497.0ZM550.2,499.3L551.3,499.3L553.1,499.2L554.4,499.1L554.3,496.3L553.0,496.4L551.2,496.5L550.1,496.5ZM558.5,499.0L559.9,499.0L561.7,498.9L562.6,498.9L562.6,496.1L561.6,496.1L559.9,496.2L558.4,496.2ZM566.8,498.8L566.8,498.8L568.6,498.8L570.3,498.7L570.9,498.7L570.9,496.0L570.2,496.0L568.5,496.0L566.8,496.0L566.7,496.0ZM575.1,498.6L575.5,498.6L577.2,498.6L578.9,498.5L579.2,498.5L579.2,495.9L578.9,495.9L577.1,495.9L575.4,496.0L575.0,496.0ZM583.4,498.4L584.1,498.4L585.8,498.4L587.5,498.4L587.5,495.9L585.8,495.9L584.0,495.9L583.3,495.9ZM591.7,498.3L592.7,498.3L594.4,498.3L595.8,498.3L595.8,495.9L594.4,495.9L592.7,495.9L591.6,495.9ZM600.0,498.3L601.3,498.3L603.0,498.3L604.1,498.2L604.1,495.9L603.0,495.9L601.3,495.9L599.9,495.9ZM608.3,498.2L609.9,498.2L611.7,498.2L612.4,498.2L612.4,495.9L611.7,495.9L609.9,495.9L608.2,495.9ZM616.6,498.2L616.8,498.2L618.6,498.2L620.3,498.2L620.7,498.2L620.7,495.9L620.3,495.9L618.6,495.9L616.8,495.9L616.5,495.9ZM624.8,498.2L625.5,498.2L627.2,498.2L628.9,498.2L629.0,498.2L629.0,495.9L628.9,495.9L627.2,495.9L625.5,495.9L624.8,495.9ZM633.1,498.2L634.1,498.2L635.8,498.2L637.3,498.2L637.3,495.9L635.8,495.9L634.1,495.9L633.1,495.9ZM641.4,498.2L642.7,498.2L644.4,498.2L645.6,498.2L645.6,495.9L644.4,495.9L642.7,495.9L641.4,495.9Z" fill="#0f0"/>
<path transform="translate(99.44,503.55) scale(0.019,-0.019)" d="M259,0L259,505L102,505L102,568C190,580 250,620 285,709L347,709L347,0Z" fill="#000"/>
<text class="tk" text-anchor="end" x="110" y="581.6">0.8</text>
<text class="tk" text-anchor="end" x="110" y="659.7">0.6</text>
<text class="tk" text-anchor="end" x="699" y="503.5">0</text>
<text class="tk" text-anchor="end" x="688.44" y="581.6">-0.</text>
<path transform="translate(688.44,581.65) scale(0.019,-0.019)" d="M259,0L259,505L102,505L102,568C190,580 250,620 285,709L347,709L347,0Z" fill="#000"/>
<text class="tk" text-anchor="end" x="699" y="659.7">-0.2</text>
<path d="M168.84,836.80v-6.0M168.84,680.60v6.0M199.57,836.80v-6.0M199.57,680.60v6.0M230.31,836.80v-6.0M230.31,680.60v6.0M261.05,836.80v-11.8M261.05,680.60v11.8M291.79,836.80v-6.0M291.79,680.60v6.0M322.52,836.80v-6.0M322.52,680.60v6.0M353.26,836.80v-6.0M353.26,680.60v6.0M138.10,700.12h6.0M384.00,700.12h-6.0M138.10,719.65h6.0M384.00,719.65h-6.0M138.10,739.18h6.0M384.00,739.18h-6.0M138.10,758.70h11.8M384.00,758.70h-11.8M138.10,778.23h6.0M384.00,778.23h-6.0M138.10,797.75h6.0M384.00,797.75h-6.0M138.10,817.27h6.0M384.00,817.27h-6.0" stroke="#000" stroke-width="1.7" fill="none"/>
<rect x="138.10" y="680.60" width="245.90" height="156.20" fill="none" stroke="#000" stroke-width="1.9"/>
<path d="M137.85,692.60V680.35H150.10" fill="none" stroke="#000" stroke-width="1.9" stroke-linecap="butt" stroke-linejoin="miter"/>
<text class="tp" x="261" y="806.0">T<tspan class="sub" dy="6.8">p</tspan><tspan dy="-6.8">=500 MeV</tspan></text>
<path d="M145.3,769.9L147.0,767.9L148.8,765.9L150.5,763.9L152.2,761.9L153.9,760.0L155.6,758.0L157.4,756.1L159.1,754.1L160.8,752.2L162.5,750.3L164.3,748.4L166.0,746.5L167.7,744.6L169.4,742.8L171.1,741.0L172.8,739.3L174.6,737.5L176.3,735.8L178.0,734.1L179.7,732.5L181.4,730.8L183.1,729.2L184.9,727.7L186.6,726.1L188.3,724.6L190.0,723.2L191.7,721.8L193.4,720.4L195.1,719.0L196.9,717.6L198.6,716.3L200.3,714.9L202.0,713.5L203.7,712.2L205.5,710.9L207.2,709.7L208.9,708.5L210.6,707.3L212.3,706.2L214.0,705.1L215.7,704.1L217.4,703.1L219.1,702.1L220.8,701.2L222.5,700.3L224.2,699.4L225.9,698.6L227.6,697.8L229.3,697.0L231.1,696.3L232.8,695.5L234.5,694.8L236.2,694.1L237.9,693.4L239.6,692.8L241.3,692.2L243.0,691.7L244.7,691.2L246.4,690.7L248.1,690.2L249.8,689.7L251.5,689.3L253.2,688.9L255.0,688.5L256.7,688.1L258.4,687.7L260.1,687.4L261.8,687.1L263.5,686.8L265.2,686.6L266.9,686.3L268.6,686.0L270.4,685.8L272.1,685.6L273.8,685.3L275.5,685.1L277.2,684.9L278.9,684.7L280.7,684.5L282.4,684.3L284.1,684.2L285.8,684.0L287.5,683.9L289.2,683.8L290.9,683.6L292.7,683.6L294.4,683.5L296.1,683.4L297.8,683.3L299.5,683.2L301.3,683.2L303.0,683.1L304.7,683.0L306.4,683.0L308.2,682.9L309.9,682.9L311.6,682.8L313.3,682.8L315.0,682.7L316.8,682.7L318.5,682.6L320.2,682.6L321.9,682.5L323.6,682.5L325.4,682.4L327.1,682.4L328.8,682.4L330.5,682.4L332.3,682.3L334.0,682.3L335.7,682.3L337.4,682.3L339.2,682.3L340.9,682.2L342.6,682.2L344.3,682.2L346.1,682.2L347.8,682.2L349.5,682.2L351.2,682.1L353.0,682.1L354.7,682.1L356.4,682.1L358.1,682.1L359.9,682.1L361.6,682.1L363.3,682.1L365.0,682.1L366.8,682.1L368.5,682.1L370.2,682.1L371.9,682.1L373.7,682.1L375.4,682.1L377.1,682.1L378.8,682.1L380.6,682.1L382.3,682.1L384.0,682.1L384.0,679.9L382.3,679.9L380.6,679.9L378.8,679.9L377.1,679.9L375.4,679.9L373.7,679.9L371.9,679.9L370.2,679.9L368.5,679.9L366.8,679.9L365.0,679.9L363.3,679.9L361.6,679.9L359.9,679.9L358.1,679.9L356.4,679.9L354.7,679.9L353.0,679.9L351.2,679.9L349.5,679.9L347.8,679.8L346.0,679.8L344.3,679.8L342.6,679.8L340.9,679.8L339.1,679.8L337.4,679.8L335.7,679.8L334.0,679.8L332.2,679.9L330.5,679.9L328.8,679.9L327.1,679.9L325.3,679.9L323.6,679.9L321.9,679.9L320.2,679.9L318.4,679.9L316.7,679.9L315.0,679.9L313.2,680.0L311.5,680.0L309.8,680.1L308.1,680.1L306.3,680.2L304.6,680.2L302.9,680.3L301.2,680.4L299.4,680.4L297.7,680.5L296.0,680.6L294.2,680.7L292.5,680.8L290.8,680.9L289.0,681.0L287.3,681.1L285.6,681.2L283.8,681.4L282.1,681.5L280.4,681.7L278.6,681.9L276.9,682.1L275.2,682.3L273.4,682.6L271.7,682.8L270.0,683.0L268.2,683.3L266.5,683.5L264.8,683.8L263.0,684.1L261.3,684.3L259.6,684.6L257.8,685.0L256.1,685.4L254.3,685.8L252.6,686.2L250.9,686.6L249.1,687.0L247.4,687.5L245.6,688.0L243.9,688.5L242.1,689.0L240.4,689.6L238.6,690.2L236.9,690.8L235.1,691.5L233.4,692.2L231.7,693.0L229.9,693.7L228.2,694.5L226.5,695.3L224.7,696.1L223.0,696.9L221.2,697.8L219.5,698.7L217.7,699.6L216.0,700.6L214.2,701.7L212.5,702.7L210.8,703.8L209.0,705.0L207.3,706.1L205.5,707.4L203.8,708.7L202.0,710.0L200.3,711.3L198.6,712.7L196.9,714.1L195.1,715.4L193.4,716.8L191.7,718.2L189.9,719.6L188.2,721.0L186.5,722.5L184.7,724.0L183.0,725.6L181.2,727.2L179.5,728.8L177.8,730.4L176.0,732.1L174.3,733.8L172.6,735.5L170.8,737.3L169.1,739.1L167.4,740.9L165.7,742.7L163.9,744.6L162.2,746.5L160.5,748.4L158.7,750.3L157.0,752.3L155.3,754.2L153.5,756.2L151.8,758.1L150.1,760.1L148.4,762.1L146.6,764.1L144.9,766.1L143.2,768.1Z" fill="#f00"/>
<path d="M145.4,775.5L147.1,773.3L147.9,772.2L145.7,770.5L144.9,771.6L143.1,773.8ZM150.4,769.0L150.5,768.8L152.2,766.6L153.0,765.7L150.8,764.0L150.0,764.9L148.3,767.1L148.2,767.2ZM155.6,762.5L155.7,762.3L157.4,760.1L158.1,759.2L156.0,757.5L155.2,758.4L153.5,760.5L153.4,760.7ZM160.7,756.0L160.9,755.8L162.6,753.7L163.4,752.8L161.2,751.0L160.4,751.9L158.7,754.1L158.6,754.2ZM166.0,749.6L166.0,749.6L167.7,747.5L168.7,746.4L166.6,744.6L165.6,745.7L163.9,747.8L163.8,747.8ZM171.4,743.3L172.9,741.6L174.1,740.2L172.1,738.4L170.8,739.8L169.3,741.5ZM176.9,737.2L178.0,736.0L179.8,734.2L179.8,734.2L177.7,732.3L177.7,732.3L176.0,734.1L174.9,735.3ZM182.6,731.2L183.2,730.6L184.9,728.9L185.5,728.3L183.6,726.3L182.9,726.9L181.2,728.7L180.6,729.3ZM188.5,725.5L190.0,724.1L191.6,722.7L189.7,720.6L188.2,722.0L186.6,723.4ZM194.7,720.0L195.2,719.6L196.9,718.1L197.8,717.3L196.1,715.2L195.1,716.0L193.4,717.4L192.9,717.9ZM201.0,714.7L202.1,713.9L203.8,712.5L204.2,712.1L202.5,709.9L202.0,710.3L200.3,711.7L199.3,712.5ZM207.5,709.6L208.9,708.6L210.6,707.4L210.8,707.2L209.3,704.9L209.0,705.1L207.3,706.3L205.8,707.3ZM214.3,705.0L215.7,704.1L217.4,703.1L217.8,702.9L216.4,700.4L216.0,700.7L214.2,701.7L212.8,702.6ZM221.3,700.9L222.5,700.3L224.2,699.4L225.0,699.0L223.8,696.5L223.0,696.9L221.2,697.8L220.1,698.4ZM228.7,697.3L229.3,697.0L231.1,696.3L232.5,695.6L231.4,693.1L229.9,693.7L228.2,694.5L227.6,694.7ZM236.3,694.1L237.9,693.4L239.6,692.8L240.1,692.6L239.2,690.0L238.6,690.2L236.9,690.8L235.3,691.5ZM244.0,691.4L244.7,691.2L246.4,690.7L248.0,690.2L247.2,687.5L245.6,688.0L243.9,688.5L243.2,688.7ZM252.0,689.2L253.2,688.9L255.0,688.5L256.0,688.3L255.4,685.5L254.3,685.8L252.6,686.2L251.3,686.5ZM260.0,687.4L260.1,687.4L261.8,687.1L263.5,686.8L264.0,686.7L263.6,684.0L263.0,684.1L261.3,684.3L259.6,684.6L259.5,684.7ZM268.1,686.1L268.6,686.0L270.4,685.8L272.1,685.6L272.2,685.5L271.9,682.8L271.7,682.8L270.0,683.0L268.2,683.3L267.7,683.3ZM276.3,685.0L277.2,684.9L278.9,684.7L280.4,684.5L280.1,681.7L278.6,681.9L276.9,682.1L276.0,682.2ZM284.5,684.1L285.8,684.0L287.5,683.9L288.6,683.8L288.5,681.0L287.3,681.1L285.6,681.2L284.3,681.3ZM292.8,683.6L294.4,683.5L296.1,683.4L296.9,683.4L296.8,680.6L296.0,680.6L294.2,680.7L292.6,680.8ZM301.0,683.2L301.3,683.2L303.0,683.1L304.7,683.0L305.2,683.0L305.1,680.2L304.6,680.2L302.9,680.3L301.2,680.4L300.9,680.4ZM309.3,682.9L309.9,682.9L311.6,682.8L313.3,682.8L313.5,682.8L313.4,680.0L313.2,680.0L311.5,680.0L309.8,680.1L309.2,680.1ZM317.6,682.7L318.5,682.6L320.2,682.6L321.7,682.5L321.7,679.9L320.2,679.9L318.4,679.9L317.6,679.9ZM325.9,682.4L327.1,682.4L328.8,682.4L330.0,682.4L330.0,679.9L328.8,679.9L327.1,679.9L325.9,679.9ZM334.2,682.3L335.7,682.3L337.4,682.3L338.3,682.3L338.3,679.8L337.4,679.8L335.7,679.8L334.2,679.8ZM342.5,682.2L342.6,682.2L344.3,682.2L346.1,682.2L346.6,682.2L346.6,679.8L346.0,679.8L344.3,679.8L342.6,679.8L342.5,679.8ZM350.8,682.1L351.2,682.1L353.0,682.1L354.7,682.1L354.9,682.1L354.9,679.9L354.7,679.9L353.0,679.9L351.2,679.9L350.8,679.9ZM359.1,682.1L359.9,682.1L361.6,682.1L363.2,682.1L363.2,679.9L361.6,679.9L359.9,679.9L359.1,679.9ZM367.4,682.1L368.5,682.1L370.2,682.1L371.5,682.1L371.5,679.9L370.2,679.9L368.5,679.9L367.4,679.9ZM375.7,682.1L377.1,682.1L378.8,682.1L379.8,682.1L379.8,679.9L378.8,679.9L377.1,679.9L375.7,679.9ZM384.0,682.1L384.0,682.1L384.0,679.9L384.0,679.9Z" fill="#0f0"/>
<path d="M434.44,836.80v-6.0M434.44,680.60v6.0M465.18,836.80v-6.0M465.18,680.60v6.0M495.91,836.80v-6.0M495.91,680.60v6.0M526.65,836.80v-11.8M526.65,680.60v11.8M557.39,836.80v-6.0M557.39,680.60v6.0M588.12,836.80v-6.0M588.12,680.60v6.0M618.86,836.80v-6.0M618.86,680.60v6.0M403.70,696.22h6.0M649.60,696.22h-6.0M403.70,711.84h6.0M649.60,711.84h-6.0M403.70,727.46h6.0M649.60,727.46h-6.0M403.70,743.08h6.0M649.60,743.08h-6.0M403.70,758.70h11.8M649.60,758.70h-11.8M403.70,774.32h6.0M649.60,774.32h-6.0M403.70,789.94h6.0M649.60,789.94h-6.0M403.70,805.56h6.0M649.60,805.56h-6.0M403.70,821.18h6.0M649.60,821.18h-6.0" stroke="#000" stroke-width="1.7" fill="none"/>
<rect x="403.70" y="680.60" width="245.90" height="156.20" fill="none" stroke="#000" stroke-width="1.9"/>
<path d="M403.45,692.60V680.35H415.70" fill="none" stroke="#000" stroke-width="1.9" stroke-linecap="butt" stroke-linejoin="miter"/>
<text class="tp" x="527" y="806.0">T<tspan class="sub" dy="6.8">p</tspan><tspan dy="-6.8">=500 MeV</tspan></text>
<path d="M409.8,834.4L411.5,834.5L413.2,834.6L415.0,834.6L416.7,834.7L418.4,834.8L420.1,834.9L421.9,834.9L423.6,835.0L425.3,835.1L427.0,835.2L428.8,835.2L430.5,835.3L432.2,835.4L433.9,835.5L435.7,835.5L437.4,835.6L439.1,835.7L440.8,835.7L442.6,835.8L444.3,835.9L446.0,836.0L447.7,836.0L449.5,836.1L451.2,836.2L452.9,836.2L454.6,836.3L456.4,836.4L458.1,836.4L459.8,836.5L461.5,836.6L463.3,836.6L465.0,836.7L466.7,836.8L468.4,836.8L470.2,836.9L471.9,836.9L473.6,837.0L475.3,837.0L477.1,837.1L478.8,837.2L480.5,837.2L482.2,837.3L484.0,837.3L485.7,837.4L487.4,837.4L489.2,837.4L490.9,837.5L492.6,837.5L494.3,837.6L496.1,837.6L497.8,837.6L499.5,837.7L501.2,837.7L503.0,837.7L504.7,837.7L506.4,837.8L508.1,837.8L509.9,837.8L511.6,837.8L513.3,837.8L515.0,837.8L516.8,837.9L518.5,837.9L520.2,837.9L521.9,837.9L523.7,837.9L525.4,837.9L527.1,837.9L528.9,837.9L530.6,837.9L532.3,837.9L534.0,837.9L535.8,837.9L537.5,837.9L539.2,837.9L540.9,838.0L542.7,838.0L544.4,838.0L546.1,838.0L547.8,838.0L549.6,838.0L551.3,838.0L553.0,837.9L554.7,837.9L556.5,837.9L558.2,837.9L559.9,837.9L561.6,837.9L563.4,837.9L565.1,837.9L566.8,837.9L568.5,837.9L570.3,837.9L572.0,837.9L573.7,837.9L575.4,837.9L577.2,837.9L578.9,837.9L580.6,837.9L582.3,837.9L584.1,837.9L585.8,837.9L587.5,837.9L589.2,837.9L591.0,837.9L592.7,837.9L594.4,837.9L596.1,837.9L597.9,837.9L599.6,837.9L601.3,837.9L603.0,837.9L604.8,837.9L606.5,837.9L608.2,837.9L609.9,837.9L611.7,837.9L613.4,837.9L615.1,837.9L616.8,837.9L618.6,837.9L620.3,837.9L622.0,837.9L623.7,837.9L625.5,837.9L627.2,837.9L628.9,837.9L630.6,837.9L632.4,837.9L634.1,837.9L635.8,837.9L637.5,837.9L639.3,837.9L641.0,837.9L642.7,837.9L644.4,837.9L646.2,837.9L647.9,837.9L649.6,837.9L649.6,835.7L647.9,835.7L646.2,835.7L644.4,835.7L642.7,835.7L641.0,835.7L639.3,835.7L637.5,835.7L635.8,835.7L634.1,835.7L632.4,835.7L630.6,835.7L628.9,835.7L627.2,835.7L625.5,835.7L623.7,835.7L622.0,835.7L620.3,835.7L618.6,835.7L616.8,835.7L615.1,835.7L613.4,835.7L611.7,835.7L609.9,835.7L608.2,835.7L606.5,835.7L604.8,835.7L603.0,835.7L601.3,835.7L599.6,835.7L597.9,835.7L596.1,835.7L594.4,835.7L592.7,835.7L591.0,835.7L589.2,835.7L587.5,835.7L585.8,835.7L584.1,835.7L582.3,835.7L580.6,835.7L578.9,835.7L577.2,835.7L575.4,835.7L573.7,835.7L572.0,835.7L570.3,835.7L568.5,835.7L566.8,835.7L565.1,835.7L563.4,835.7L561.6,835.7L559.9,835.7L558.2,835.7L556.5,835.7L554.7,835.7L553.0,835.6L551.3,835.6L549.6,835.6L547.8,835.6L546.1,835.6L544.4,835.6L542.7,835.6L540.9,835.5L539.2,835.5L537.5,835.5L535.8,835.5L534.0,835.5L532.3,835.5L530.6,835.5L528.9,835.4L527.1,835.4L525.4,835.4L523.7,835.4L522.0,835.3L520.3,835.3L518.5,835.3L516.8,835.2L515.1,835.2L513.4,835.2L511.6,835.1L509.9,835.1L508.2,835.1L506.5,835.0L504.7,835.0L503.0,835.0L501.3,834.9L499.6,834.9L497.8,834.8L496.1,834.8L494.4,834.8L492.7,834.7L490.9,834.7L489.2,834.6L487.5,834.6L485.8,834.6L484.1,834.5L482.3,834.5L480.6,834.4L478.9,834.4L477.2,834.3L475.4,834.2L473.7,834.2L472.0,834.1L470.3,834.1L468.5,834.0L466.8,834.0L465.1,833.9L463.4,833.8L461.6,833.8L459.9,833.7L458.2,833.6L456.5,833.6L454.7,833.5L453.0,833.4L451.3,833.4L449.6,833.3L447.9,833.2L446.1,833.2L444.4,833.1L442.7,833.0L441.0,832.9L439.2,832.9L437.5,832.8L435.8,832.7L434.1,832.7L432.3,832.6L430.6,832.5L428.9,832.4L427.2,832.4L425.4,832.3L423.7,832.2L422.0,832.1L420.3,832.1L418.5,832.0L416.8,831.9L415.1,831.8L413.4,831.8L411.6,831.7L409.9,831.6Z" fill="#f00"/>
<path d="M409.8,834.4L411.5,834.5L413.2,834.6L413.9,834.6L414.1,831.8L413.4,831.8L411.6,831.7L409.9,831.6ZM418.1,834.8L418.4,834.8L420.1,834.9L421.9,834.9L422.2,835.0L422.3,832.2L422.0,832.1L420.3,832.1L418.5,832.0L418.2,832.0ZM426.4,835.1L427.0,835.2L428.8,835.2L430.5,835.3L430.5,835.3L430.6,832.5L430.6,832.5L428.9,832.4L427.2,832.4L426.5,832.3ZM434.7,835.5L435.7,835.5L437.4,835.6L438.8,835.7L438.9,832.9L437.5,832.8L435.8,832.7L434.8,832.7ZM443.0,835.8L444.3,835.9L446.0,836.0L447.1,836.0L447.2,833.2L446.1,833.2L444.4,833.1L443.1,833.0ZM451.3,836.2L452.9,836.2L454.6,836.3L455.4,836.3L455.5,833.5L454.7,833.5L453.0,833.4L451.4,833.4ZM459.6,836.5L459.8,836.5L461.5,836.6L463.3,836.6L463.7,836.7L463.8,833.9L463.4,833.8L461.6,833.8L459.9,833.7L459.7,833.7ZM467.9,836.8L468.4,836.8L470.2,836.9L471.9,836.9L472.0,836.9L472.1,834.1L472.0,834.1L470.3,834.1L468.5,834.0L467.9,834.0ZM476.1,837.1L477.1,837.1L478.8,837.2L480.3,837.2L480.4,834.4L478.9,834.4L477.2,834.3L476.2,834.3ZM484.4,837.3L485.7,837.4L487.4,837.4L488.6,837.4L488.7,834.6L487.5,834.6L485.8,834.6L484.5,834.5ZM492.8,837.5L494.3,837.6L496.1,837.6L496.9,837.6L497.0,834.8L496.1,834.8L494.4,834.8L492.8,834.7ZM501.1,837.7L501.2,837.7L503.0,837.7L504.7,837.7L505.2,837.7L505.3,835.0L504.7,835.0L503.0,835.0L501.3,834.9L501.1,834.9ZM509.4,837.8L509.9,837.8L511.6,837.8L513.3,837.8L513.5,837.8L513.6,835.2L513.4,835.2L511.6,835.1L509.9,835.1L509.4,835.1ZM517.7,837.9L518.5,837.9L520.2,837.9L521.8,837.9L521.8,835.3L520.3,835.3L518.5,835.3L517.7,835.3ZM526.0,837.9L527.1,837.9L528.9,837.9L530.1,837.9L530.1,835.5L528.9,835.4L527.1,835.4L526.0,835.4ZM534.3,837.9L535.8,837.9L537.5,837.9L538.4,837.9L538.4,835.5L537.5,835.5L535.8,835.5L534.3,835.5ZM542.6,838.0L542.7,838.0L544.4,838.0L546.1,838.0L546.7,838.0L546.7,835.6L546.1,835.6L544.4,835.6L542.7,835.6L542.6,835.6ZM550.9,838.0L551.3,838.0L553.0,837.9L554.7,837.9L555.0,837.9L555.0,835.7L554.7,835.7L553.0,835.6L551.3,835.6L550.9,835.6ZM559.2,837.9L559.9,837.9L561.6,837.9L563.3,837.9L563.3,835.7L561.6,835.7L559.9,835.7L559.2,835.7ZM567.5,837.9L568.5,837.9L570.3,837.9L571.6,837.9L571.6,835.7L570.3,835.7L568.5,835.7L567.5,835.7ZM575.8,837.9L577.2,837.9L578.9,837.9L579.9,837.9L579.9,835.7L578.9,835.7L577.2,835.7L575.8,835.7ZM584.1,837.9L585.8,837.9L587.5,837.9L588.2,837.9L588.2,835.7L587.5,835.7L585.8,835.7L584.1,835.7ZM592.4,837.9L592.7,837.9L594.4,837.9L596.1,837.9L596.5,837.9L596.5,835.7L596.1,835.7L594.4,835.7L592.7,835.7L592.4,835.7ZM600.7,837.9L601.3,837.9L603.0,837.9L604.8,837.9L604.8,837.9L604.8,835.7L604.8,835.7L603.0,835.7L601.3,835.7L600.7,835.7ZM609.0,837.9L609.9,837.9L611.7,837.9L613.1,837.9L613.1,835.7L611.7,835.7L609.9,835.7L609.0,835.7ZM617.3,837.9L618.6,837.9L620.3,837.9L621.4,837.9L621.4,835.7L620.3,835.7L618.6,835.7L617.3,835.7ZM625.6,837.9L627.2,837.9L628.9,837.9L629.7,837.9L629.7,835.7L628.9,835.7L627.2,835.7L625.6,835.7ZM633.9,837.9L634.1,837.9L635.8,837.9L637.5,837.9L638.0,837.9L638.0,835.7L637.5,835.7L635.8,835.7L634.1,835.7L633.9,835.7ZM642.2,837.9L642.7,837.9L644.4,837.9L646.2,837.9L646.3,837.9L646.3,835.7L646.2,835.7L644.4,835.7L642.7,835.7L642.2,835.7Z" fill="#0f0"/>
<path transform="translate(99.44,687.50) scale(0.019,-0.019)" d="M259,0L259,505L102,505L102,568C190,580 250,620 285,709L347,709L347,0Z" fill="#000"/>
<text class="tk" text-anchor="end" x="110" y="765.6">0.8</text>
<text class="tk" text-anchor="end" x="110" y="843.7">0.6</text>
<text class="tk" text-anchor="end" x="699" y="687.5">0.2</text>
<text class="tk" text-anchor="end" x="688.44" y="765.6">0.</text>
<path transform="translate(688.44,765.60) scale(0.019,-0.019)" d="M259,0L259,505L102,505L102,568C190,580 250,620 285,709L347,709L347,0Z" fill="#000"/>
<text class="tk" text-anchor="end" x="699" y="843.7">0</text>
<path d="M168.84,1020.75v-6.0M168.84,864.55v6.0M199.57,1020.75v-6.0M199.57,864.55v6.0M230.31,1020.75v-6.0M230.31,864.55v6.0M261.05,1020.75v-11.8M261.05,864.55v11.8M291.79,1020.75v-6.0M291.79,864.55v6.0M322.52,1020.75v-6.0M322.52,864.55v6.0M353.26,1020.75v-6.0M353.26,864.55v6.0M138.10,884.07h6.0M384.00,884.07h-6.0M138.10,903.60h6.0M384.00,903.60h-6.0M138.10,923.12h6.0M384.00,923.12h-6.0M138.10,942.65h11.8M384.00,942.65h-11.8M138.10,962.17h6.0M384.00,962.17h-6.0M138.10,981.70h6.0M384.00,981.70h-6.0M138.10,1001.22h6.0M384.00,1001.22h-6.0" stroke="#000" stroke-width="1.7" fill="none"/>
<rect x="138.10" y="864.55" width="245.90" height="156.20" fill="none" stroke="#000" stroke-width="1.9"/>
<path d="M137.85,876.55V864.30H150.10" fill="none" stroke="#000" stroke-width="1.9" stroke-linecap="butt" stroke-linejoin="miter"/>
<text class="tp" x="261" y="989.9">T<tspan class="sub" dy="6.8">p</tspan><tspan dy="-6.8">=250 MeV</tspan></text>
<path d="M145.4,973.7L147.1,971.3L148.8,968.9L150.6,966.6L152.3,964.2L154.0,961.9L155.7,959.5L157.5,957.2L159.2,954.8L160.9,952.4L162.6,950.1L164.3,947.8L166.1,945.5L167.8,943.2L169.5,941.0L171.2,938.8L172.9,936.6L174.7,934.5L176.4,932.4L178.1,930.4L179.8,928.3L181.5,926.3L183.2,924.4L185.0,922.4L186.7,920.5L188.4,918.6L190.1,916.8L191.8,915.0L193.5,913.2L195.3,911.5L197.0,909.8L198.7,908.1L200.4,906.4L202.1,904.7L203.8,903.1L205.6,901.5L207.3,900.0L209.0,898.5L210.7,897.0L212.4,895.6L214.1,894.2L215.8,892.9L217.5,891.6L219.2,890.4L220.9,889.2L222.6,888.1L224.3,887.0L226.0,885.9L227.7,884.9L229.5,884.0L231.2,883.0L232.9,882.1L234.6,881.2L236.3,880.3L238.0,879.4L239.7,878.7L241.4,878.0L243.1,877.3L244.8,876.7L246.5,876.1L248.2,875.6L249.9,875.0L251.6,874.5L253.3,873.9L255.1,873.4L256.8,872.8L258.5,872.3L260.1,871.9L261.8,871.5L263.5,871.2L265.2,870.9L267.0,870.6L268.7,870.3L270.4,870.0L272.1,869.7L273.8,869.4L275.5,869.2L277.2,868.9L279.0,868.7L280.7,868.5L282.4,868.3L284.1,868.1L285.8,868.0L287.5,867.8L289.2,867.7L290.9,867.6L292.7,867.5L294.4,867.4L296.1,867.3L297.8,867.3L299.5,867.2L301.3,867.1L303.0,867.0L304.7,867.0L306.4,866.9L308.2,866.9L309.9,866.8L311.6,866.8L313.3,866.7L315.0,866.7L316.8,866.6L318.5,866.6L320.2,866.5L321.9,866.4L323.6,866.4L325.4,866.4L327.1,866.4L328.8,866.3L330.5,866.3L332.3,866.3L334.0,866.3L335.7,866.3L337.4,866.2L339.2,866.2L340.9,866.2L342.6,866.2L344.3,866.2L346.1,866.1L347.8,866.1L349.5,866.1L351.2,866.1L353.0,866.1L354.7,866.1L356.4,866.1L358.1,866.1L359.9,866.1L361.6,866.1L363.3,866.1L365.0,866.1L366.8,866.1L368.5,866.1L370.2,866.1L371.9,866.1L373.7,866.1L375.4,866.1L377.1,866.1L378.8,866.1L380.6,866.1L382.3,866.1L384.0,866.1L384.0,863.8L382.3,863.8L380.6,863.8L378.8,863.8L377.1,863.8L375.4,863.8L373.7,863.8L371.9,863.8L370.2,863.8L368.5,863.8L366.8,863.8L365.0,863.8L363.3,863.8L361.6,863.8L359.9,863.8L358.1,863.8L356.4,863.8L354.7,863.8L353.0,863.8L351.2,863.8L349.5,863.8L347.8,863.8L346.0,863.8L344.3,863.8L342.6,863.8L340.9,863.8L339.1,863.8L337.4,863.8L335.7,863.8L334.0,863.8L332.2,863.8L330.5,863.8L328.8,863.8L327.1,863.8L325.3,863.9L323.6,863.9L321.9,863.9L320.2,863.9L318.4,863.8L316.7,863.8L315.0,863.9L313.2,863.9L311.5,864.0L309.8,864.0L308.1,864.1L306.3,864.1L304.6,864.2L302.9,864.2L301.2,864.3L299.4,864.4L297.7,864.5L296.0,864.5L294.2,864.6L292.5,864.7L290.8,864.8L289.0,864.9L287.3,865.0L285.6,865.2L283.8,865.4L282.1,865.5L280.3,865.7L278.6,865.9L276.9,866.2L275.1,866.4L273.4,866.7L271.7,866.9L269.9,867.2L268.2,867.5L266.5,867.8L264.7,868.1L263.0,868.4L261.3,868.8L259.5,869.2L257.7,869.6L256.0,870.2L254.2,870.7L252.5,871.3L250.8,871.8L249.0,872.3L247.3,872.9L245.6,873.5L243.8,874.1L242.1,874.7L240.3,875.4L238.6,876.1L236.8,876.9L235.0,877.8L233.3,878.7L231.5,879.6L229.8,880.5L228.1,881.5L226.3,882.5L224.6,883.5L222.8,884.6L221.1,885.7L219.4,886.9L217.6,888.1L215.9,889.3L214.1,890.7L212.4,892.0L210.6,893.4L208.9,894.9L207.2,896.4L205.4,897.9L203.7,899.5L201.9,901.1L200.2,902.7L198.5,904.4L196.7,906.1L195.0,907.8L193.3,909.5L191.5,911.3L189.8,913.1L188.1,914.9L186.3,916.7L184.6,918.6L182.9,920.5L181.1,922.5L179.4,924.5L177.7,926.5L175.9,928.6L174.2,930.6L172.5,932.7L170.8,934.9L169.0,937.1L167.3,939.3L165.6,941.5L163.8,943.8L162.1,946.1L160.4,948.4L158.6,950.8L156.9,953.2L155.2,955.5L153.5,957.9L151.7,960.2L150.0,962.6L148.3,964.9L146.6,967.3L144.8,969.7L143.1,972.0Z" fill="#f00"/>
<path d="M145.4,979.7L147.1,977.1L147.7,976.3L145.4,974.7L144.8,975.6L143.1,978.2ZM150.0,972.8L150.6,971.9L152.3,969.3L149.9,967.8L148.3,970.3L147.6,971.3ZM154.6,965.9L155.8,964.1L156.9,962.4L154.5,960.9L153.4,962.6L152.2,964.3ZM159.2,959.0L159.2,958.9L160.9,956.3L161.5,955.5L159.1,954.0L158.6,954.8L156.9,957.4L156.8,957.4ZM163.8,952.1L164.4,951.2L166.1,948.7L166.1,948.7L163.8,947.1L163.8,947.1L162.1,949.6L161.5,950.5ZM168.5,945.3L169.5,943.8L170.9,941.9L168.6,940.3L167.3,942.2L166.2,943.7ZM173.3,938.6L174.7,936.7L175.8,935.3L173.6,933.6L172.4,935.1L171.1,936.9ZM178.3,932.0L179.8,930.0L180.9,928.7L178.7,927.0L177.6,928.3L176.1,930.3ZM183.5,925.5L185.0,923.7L186.1,922.4L184.0,920.6L182.8,921.9L181.3,923.8ZM188.8,919.2L190.1,917.7L191.5,916.1L189.5,914.3L188.0,915.8L186.7,917.4ZM194.3,913.1L195.3,912.1L197.0,910.3L197.2,910.1L195.2,908.2L195.0,908.3L193.3,910.1L192.3,911.2ZM200.1,907.1L200.4,906.8L202.2,905.1L203.0,904.2L201.0,902.2L200.2,903.1L198.5,904.8L198.1,905.2ZM206.0,901.4L207.3,900.2L209.0,898.6L209.0,898.6L207.2,896.5L207.1,896.5L205.4,898.1L204.1,899.3ZM212.1,895.9L212.4,895.7L214.1,894.3L215.3,893.3L213.6,891.1L212.4,892.1L210.6,893.5L210.3,893.8ZM218.6,890.9L219.2,890.4L220.9,889.2L221.9,888.5L220.4,886.2L219.4,886.9L217.6,888.1L216.9,888.6ZM225.4,886.3L226.0,885.9L227.7,884.9L228.9,884.3L227.5,881.8L226.3,882.5L224.6,883.5L223.9,883.9ZM232.5,882.3L232.9,882.1L234.6,881.2L236.2,880.3L234.9,877.9L233.3,878.7L231.6,879.6L231.2,879.8ZM239.8,878.6L241.4,878.0L243.1,877.3L243.6,877.1L242.7,874.5L242.1,874.7L240.3,875.4L238.7,876.0ZM247.5,875.8L248.2,875.6L249.9,875.0L251.4,874.5L250.6,871.9L249.0,872.3L247.3,872.9L246.6,873.1ZM255.4,873.3L256.8,872.8L258.5,872.3L259.3,872.1L258.6,869.4L257.7,869.6L256.0,870.2L254.5,870.6ZM263.3,871.2L263.5,871.2L265.2,870.9L267.0,870.6L267.3,870.5L266.8,867.7L266.5,867.8L264.7,868.1L263.0,868.4L262.7,868.5ZM271.4,869.8L272.1,869.7L273.8,869.4L275.5,869.2L275.1,866.4L273.4,866.7L271.7,866.9L271.0,867.0ZM279.6,868.7L280.7,868.5L282.4,868.3L283.7,868.2L283.4,865.4L282.1,865.5L280.3,865.7L279.2,865.9ZM287.8,867.8L289.2,867.7L290.9,867.6L291.9,867.5L291.7,864.8L290.8,864.8L289.0,864.9L287.5,865.0ZM296.0,867.3L296.1,867.3L297.8,867.3L299.5,867.2L300.1,867.2L300.0,864.4L299.4,864.4L297.7,864.5L296.0,864.5L295.9,864.5ZM304.3,867.0L304.7,867.0L306.4,866.9L308.2,866.9L308.4,866.9L308.3,864.1L308.1,864.1L306.3,864.1L304.6,864.2L304.2,864.2ZM312.6,866.7L313.3,866.7L315.0,866.7L316.7,866.6L316.6,863.8L315.0,863.9L313.2,863.9L312.5,863.9ZM320.8,866.5L321.9,866.4L323.6,866.4L325.0,866.4L325.0,863.9L323.6,863.9L321.9,863.9L320.8,863.9ZM329.1,866.3L330.5,866.3L332.3,866.3L333.3,866.3L333.3,863.8L332.2,863.8L330.5,863.8L329.1,863.8ZM337.4,866.2L337.4,866.2L339.2,866.2L340.9,866.2L341.6,866.2L341.6,863.8L340.9,863.8L339.1,863.8L337.4,863.8L337.4,863.8ZM345.7,866.1L346.1,866.1L347.8,866.1L349.5,866.1L349.9,866.1L349.9,863.8L349.5,863.8L347.8,863.8L346.0,863.8L345.7,863.8ZM354.0,866.1L354.7,866.1L356.4,866.1L358.1,866.1L358.2,866.1L358.2,863.8L358.1,863.8L356.4,863.8L354.7,863.8L354.0,863.8ZM362.3,866.1L363.3,866.1L365.0,866.1L366.5,866.1L366.5,863.8L365.0,863.8L363.3,863.8L362.3,863.8ZM370.6,866.1L371.9,866.1L373.7,866.1L374.8,866.1L374.8,863.8L373.7,863.8L371.9,863.8L370.6,863.8ZM378.9,866.1L380.6,866.1L382.3,866.1L383.1,866.1L383.1,863.8L382.3,863.8L380.6,863.8L378.9,863.8Z" fill="#0f0"/>
<path d="M434.44,1020.75v-6.0M434.44,864.55v6.0M465.18,1020.75v-6.0M465.18,864.55v6.0M495.91,1020.75v-6.0M495.91,864.55v6.0M526.65,1020.75v-11.8M526.65,864.55v11.8M557.39,1020.75v-6.0M557.39,864.55v6.0M588.12,1020.75v-6.0M588.12,864.55v6.0M618.86,1020.75v-6.0M618.86,864.55v6.0M403.70,880.17h6.0M649.60,880.17h-6.0M403.70,895.79h6.0M649.60,895.79h-6.0M403.70,911.41h6.0M649.60,911.41h-6.0M403.70,927.03h6.0M649.60,927.03h-6.0M403.70,942.65h11.8M649.60,942.65h-11.8M403.70,958.27h6.0M649.60,958.27h-6.0M403.70,973.89h6.0M649.60,973.89h-6.0M403.70,989.51h6.0M649.60,989.51h-6.0M403.70,1005.13h6.0M649.60,1005.13h-6.0" stroke="#000" stroke-width="1.7" fill="none"/>
<rect x="403.70" y="864.55" width="245.90" height="156.20" fill="none" stroke="#000" stroke-width="1.9"/>
<path d="M403.45,876.55V864.30H415.70" fill="none" stroke="#000" stroke-width="1.9" stroke-linecap="butt" stroke-linejoin="miter"/>
<text class="tp" x="527" y="989.9">T<tspan class="sub" dy="6.8">p</tspan><tspan dy="-6.8">=250 MeV</tspan></text>
<path d="M408.8,912.8L410.5,915.0L412.2,917.2L413.9,919.3L415.7,921.5L417.4,923.7L419.1,925.8L420.8,928.0L422.5,930.2L424.3,932.4L426.0,934.6L427.7,936.7L429.5,938.8L431.2,940.9L432.9,942.9L434.6,945.0L436.4,947.1L438.1,949.1L439.8,951.2L441.5,953.3L443.3,955.4L445.0,957.5L446.7,959.5L448.5,961.4L450.2,963.3L451.9,965.2L453.7,967.1L455.4,968.9L457.1,970.8L458.9,972.6L460.6,974.5L462.3,976.2L464.1,978.0L465.8,979.7L467.5,981.4L469.3,983.0L471.0,984.6L472.7,986.1L474.5,987.6L476.2,989.1L478.0,990.5L479.7,991.9L481.4,993.3L483.2,994.6L484.9,995.9L486.7,997.1L488.4,998.3L490.1,999.5L491.9,1000.6L493.6,1001.8L495.3,1002.9L497.1,1003.9L498.8,1005.0L500.6,1006.0L502.3,1007.0L504.1,1007.9L505.8,1008.8L507.6,1009.6L509.3,1010.4L511.1,1011.1L512.8,1011.9L514.5,1012.6L516.2,1013.3L518.0,1014.1L519.8,1014.7L521.5,1015.4L523.3,1015.9L525.0,1016.4L526.8,1016.9L528.5,1017.3L530.3,1017.7L532.0,1018.1L533.8,1018.4L535.5,1018.8L537.2,1019.1L539.0,1019.4L540.7,1019.7L542.5,1019.9L544.2,1020.1L545.9,1020.3L547.7,1020.5L549.4,1020.7L551.1,1020.9L552.9,1021.1L554.6,1021.2L556.4,1021.4L558.1,1021.5L559.9,1021.6L561.6,1021.6L563.3,1021.7L565.1,1021.7L566.8,1021.7L568.5,1021.8L570.2,1021.8L572.0,1021.8L573.7,1021.8L575.4,1021.8L577.1,1021.8L578.9,1021.8L580.6,1021.8L582.3,1021.8L584.0,1021.8L585.8,1021.8L587.5,1021.8L589.2,1021.8L590.9,1021.8L592.7,1021.9L594.4,1021.9L596.1,1021.9L597.8,1021.9L599.6,1021.9L601.3,1021.9L603.0,1021.9L604.7,1021.9L606.5,1021.9L608.2,1021.9L609.9,1021.9L611.7,1021.9L613.4,1021.9L615.1,1021.9L616.8,1021.9L618.6,1021.9L620.3,1021.9L622.0,1021.9L623.7,1021.9L625.5,1021.9L627.2,1021.9L628.9,1021.9L630.6,1021.9L632.4,1021.9L634.1,1021.9L635.8,1021.9L637.5,1021.9L639.3,1021.9L641.0,1021.9L642.7,1021.9L644.4,1021.9L646.2,1021.9L647.9,1021.9L649.6,1021.9L649.6,1019.6L647.9,1019.6L646.2,1019.6L644.4,1019.6L642.7,1019.6L641.0,1019.6L639.3,1019.6L637.5,1019.6L635.8,1019.6L634.1,1019.6L632.4,1019.6L630.6,1019.6L628.9,1019.6L627.2,1019.6L625.5,1019.6L623.7,1019.6L622.0,1019.6L620.3,1019.6L618.6,1019.6L616.8,1019.6L615.1,1019.6L613.4,1019.6L611.7,1019.6L609.9,1019.6L608.2,1019.5L606.5,1019.5L604.8,1019.5L603.0,1019.5L601.3,1019.5L599.6,1019.5L597.9,1019.5L596.1,1019.4L594.4,1019.4L592.7,1019.4L591.0,1019.4L589.2,1019.4L587.5,1019.4L585.8,1019.4L584.1,1019.3L582.3,1019.3L580.6,1019.3L578.9,1019.3L577.2,1019.2L575.4,1019.2L573.7,1019.1L572.0,1019.1L570.3,1019.1L568.6,1019.0L566.8,1019.0L565.1,1018.9L563.4,1018.9L561.7,1018.8L560.0,1018.8L558.3,1018.7L556.6,1018.6L554.9,1018.4L553.1,1018.3L551.4,1018.1L549.7,1017.9L548.0,1017.8L546.3,1017.6L544.6,1017.3L542.8,1017.1L541.1,1016.9L539.4,1016.6L537.7,1016.3L536.0,1016.0L534.3,1015.7L532.6,1015.4L530.9,1015.0L529.2,1014.6L527.5,1014.2L525.8,1013.7L524.1,1013.2L522.4,1012.7L520.7,1012.1L519.0,1011.5L517.3,1010.8L515.6,1010.0L513.9,1009.3L512.2,1008.5L510.5,1007.8L508.7,1007.0L507.0,1006.2L505.3,1005.4L503.6,1004.5L502.0,1003.6L500.3,1002.6L498.6,1001.6L496.8,1000.5L495.1,999.4L493.4,998.3L491.7,997.2L490.0,996.0L488.3,994.8L486.6,993.6L484.9,992.4L483.1,991.1L481.4,989.8L479.7,988.4L478.0,987.0L476.3,985.5L474.6,984.0L472.9,982.5L471.2,980.9L469.5,979.3L467.7,977.7L466.0,976.0L464.3,974.3L462.6,972.5L460.9,970.7L459.2,968.9L457.4,967.0L455.7,965.2L454.0,963.3L452.3,961.4L450.6,959.5L448.8,957.6L447.1,955.6L445.4,953.6L443.7,951.5L442.0,949.4L440.2,947.3L438.5,945.3L436.8,943.2L435.1,941.1L433.3,939.1L431.6,937.0L429.9,934.9L428.2,932.8L426.5,930.7L424.7,928.5L423.0,926.3L421.3,924.1L419.6,921.9L417.8,919.8L416.1,917.6L414.4,915.4L412.7,913.2L410.9,911.1Z" fill="#f00"/>
<path d="M408.6,894.4L410.4,897.3L410.8,898.0L413.2,896.5L412.8,895.9L411.0,893.0ZM412.9,901.5L413.8,903.1L415.0,905.1L417.4,903.7L416.2,901.6L415.3,900.1ZM417.1,908.7L417.3,908.9L419.0,911.8L419.3,912.2L421.7,910.8L421.4,910.4L419.7,907.4L419.6,907.2ZM421.4,915.8L422.4,917.6L423.5,919.4L425.9,918.0L424.9,916.2L423.8,914.4ZM425.6,923.0L425.9,923.5L427.6,926.5L427.7,926.5L430.1,925.1L430.0,925.0L428.3,922.1L428.0,921.5ZM429.7,930.1L431.1,932.5L431.8,933.7L434.2,932.3L433.5,931.1L432.2,928.7ZM433.9,937.3L434.5,938.4L436.1,940.9L438.5,939.4L436.9,936.9L436.3,935.9ZM438.4,944.4L439.8,946.3L440.8,947.8L443.1,946.2L442.0,944.7L440.7,942.8ZM443.3,951.2L444.9,953.4L445.8,954.5L448.0,952.8L447.2,951.8L445.5,949.5ZM448.2,957.8L448.4,958.1L450.1,960.4L450.8,961.2L453.0,959.5L452.4,958.7L450.6,956.4L450.5,956.2ZM453.3,964.5L453.6,964.8L455.3,967.0L455.9,967.7L458.1,965.9L457.5,965.2L455.8,963.1L455.5,962.7ZM458.6,970.9L458.8,971.2L460.5,973.2L461.3,974.1L463.4,972.3L462.7,971.4L460.9,969.4L460.7,969.1ZM464.1,977.2L465.8,979.0L467.0,980.2L469.0,978.2L467.8,977.0L466.1,975.3ZM470.1,983.1L471.0,984.0L472.7,985.5L473.2,985.9L475.0,983.8L474.6,983.4L472.9,981.9L472.0,981.1ZM476.3,988.7L477.9,990.1L479.5,991.4L481.3,989.3L479.8,988.0L478.1,986.6ZM482.7,994.1L483.2,994.4L484.9,995.7L486.1,996.6L487.7,994.3L486.6,993.5L484.9,992.2L484.5,991.9ZM489.5,999.0L490.1,999.5L491.9,1000.6L493.0,1001.3L494.5,999.0L493.4,998.3L491.7,997.1L491.1,996.7ZM496.5,1003.6L497.1,1004.0L498.8,1005.0L500.1,1005.8L501.5,1003.3L500.3,1002.6L498.5,1001.6L498.0,1001.2ZM503.8,1007.8L504.1,1007.9L505.8,1008.8L507.6,1009.6L507.6,1009.6L508.7,1007.0L508.8,1007.0L507.0,1006.2L505.3,1005.4L505.1,1005.3ZM511.4,1011.3L512.8,1011.9L514.5,1012.6L515.2,1012.9L516.3,1010.3L515.6,1010.0L513.9,1009.3L512.5,1008.7ZM519.1,1014.5L519.8,1014.8L521.5,1015.4L523.1,1015.9L524.0,1013.2L522.4,1012.7L520.7,1012.1L520.1,1011.9ZM527.2,1017.0L528.5,1017.3L530.3,1017.7L531.3,1017.9L531.9,1015.2L530.9,1015.0L529.2,1014.6L527.9,1014.3ZM535.4,1018.8L535.5,1018.8L537.2,1019.1L539.0,1019.4L539.5,1019.5L540.0,1016.7L539.4,1016.6L537.7,1016.3L536.0,1016.0L535.9,1016.0ZM543.7,1020.1L544.2,1020.1L545.9,1020.3L547.7,1020.5L547.8,1020.6L548.1,1017.8L548.0,1017.8L546.3,1017.6L544.6,1017.3L544.0,1017.3ZM552.0,1021.0L552.9,1021.1L554.6,1021.2L556.1,1021.4L556.4,1018.6L554.9,1018.4L553.1,1018.3L552.2,1018.2ZM560.3,1021.6L561.6,1021.6L563.3,1021.7L564.5,1021.7L564.6,1018.9L563.4,1018.9L561.7,1018.8L560.4,1018.8ZM568.7,1021.8L570.2,1021.8L572.0,1021.8L572.8,1021.8L572.8,1019.1L572.0,1019.1L570.3,1019.1L568.7,1019.0ZM577.0,1021.8L577.1,1021.8L578.9,1021.8L580.6,1021.8L581.1,1021.8L581.1,1019.3L580.6,1019.3L578.9,1019.3L577.2,1019.2L577.0,1019.2ZM585.3,1021.8L585.8,1021.8L587.5,1021.8L589.2,1021.8L589.4,1021.8L589.4,1019.4L589.2,1019.4L587.5,1019.4L585.8,1019.4L585.3,1019.3ZM593.6,1021.9L594.4,1021.9L596.1,1021.9L597.7,1021.9L597.7,1019.5L596.1,1019.4L594.4,1019.4L593.6,1019.4ZM601.9,1021.9L603.0,1021.9L604.7,1021.9L606.0,1021.9L606.0,1019.5L604.8,1019.5L603.0,1019.5L601.9,1019.5ZM610.2,1021.9L611.7,1021.9L613.4,1021.9L614.3,1021.9L614.3,1019.6L613.4,1019.6L611.7,1019.6L610.2,1019.6ZM618.5,1021.9L618.6,1021.9L620.3,1021.9L622.0,1021.9L622.6,1021.9L622.6,1019.6L622.0,1019.6L620.3,1019.6L618.6,1019.6L618.5,1019.6ZM626.8,1021.9L627.2,1021.9L628.9,1021.9L630.6,1021.9L630.9,1021.9L630.9,1019.6L630.6,1019.6L628.9,1019.6L627.2,1019.6L626.8,1019.6ZM635.1,1021.9L635.8,1021.9L637.5,1021.9L639.2,1021.9L639.2,1019.6L637.5,1019.6L635.8,1019.6L635.1,1019.6ZM643.4,1021.9L644.4,1021.9L646.2,1021.9L647.5,1021.9L647.5,1019.6L646.2,1019.6L644.4,1019.6L643.4,1019.6Z" fill="#0f0"/>
<path transform="translate(99.44,871.45) scale(0.019,-0.019)" d="M259,0L259,505L102,505L102,568C190,580 250,620 285,709L347,709L347,0Z" fill="#000"/>
<text class="tk" text-anchor="end" x="110" y="949.5">0.8</text>
<text class="tk" text-anchor="end" x="110" y="1027.7">0.6</text>
<text class="tk" text-anchor="end" x="699" y="871.4">0.2</text>
<text class="tk" text-anchor="end" x="688.44" y="949.5">0.</text>
<path transform="translate(688.44,949.55) scale(0.019,-0.019)" d="M259,0L259,505L102,505L102,568C190,580 250,620 285,709L347,709L347,0Z" fill="#000"/>
<text class="tk" text-anchor="end" x="699" y="1027.7">0</text>
<text class="tk" text-anchor="middle" x="138.1" y="1055">0</text>
<text class="tk" text-anchor="middle" x="261.1" y="1055">2</text>
<text class="tk" text-anchor="middle" x="384.0" y="1055">4</text>
<text class="tk" text-anchor="middle" x="403.7" y="1055">0</text>
<text class="tk" text-anchor="middle" x="526.6" y="1055">2</text>
<text class="tk" text-anchor="middle" x="649.6" y="1055">4</text>
<text class="ttl" text-anchor="end" transform="translate(58.9,312.6) rotate(-90) scale(1,1.035)">Real part of the Glauber phase</text>
<text class="ttl" text-anchor="end" transform="translate(738.4,312.6) rotate(-90) scale(1,1.035)">Imaginary part of the Glauber phase</text>
<text class="ttl" text-anchor="end" transform="translate(650,1095.4) scale(1,1.035)">r(fm)</text>
</svg>
</body></html>
